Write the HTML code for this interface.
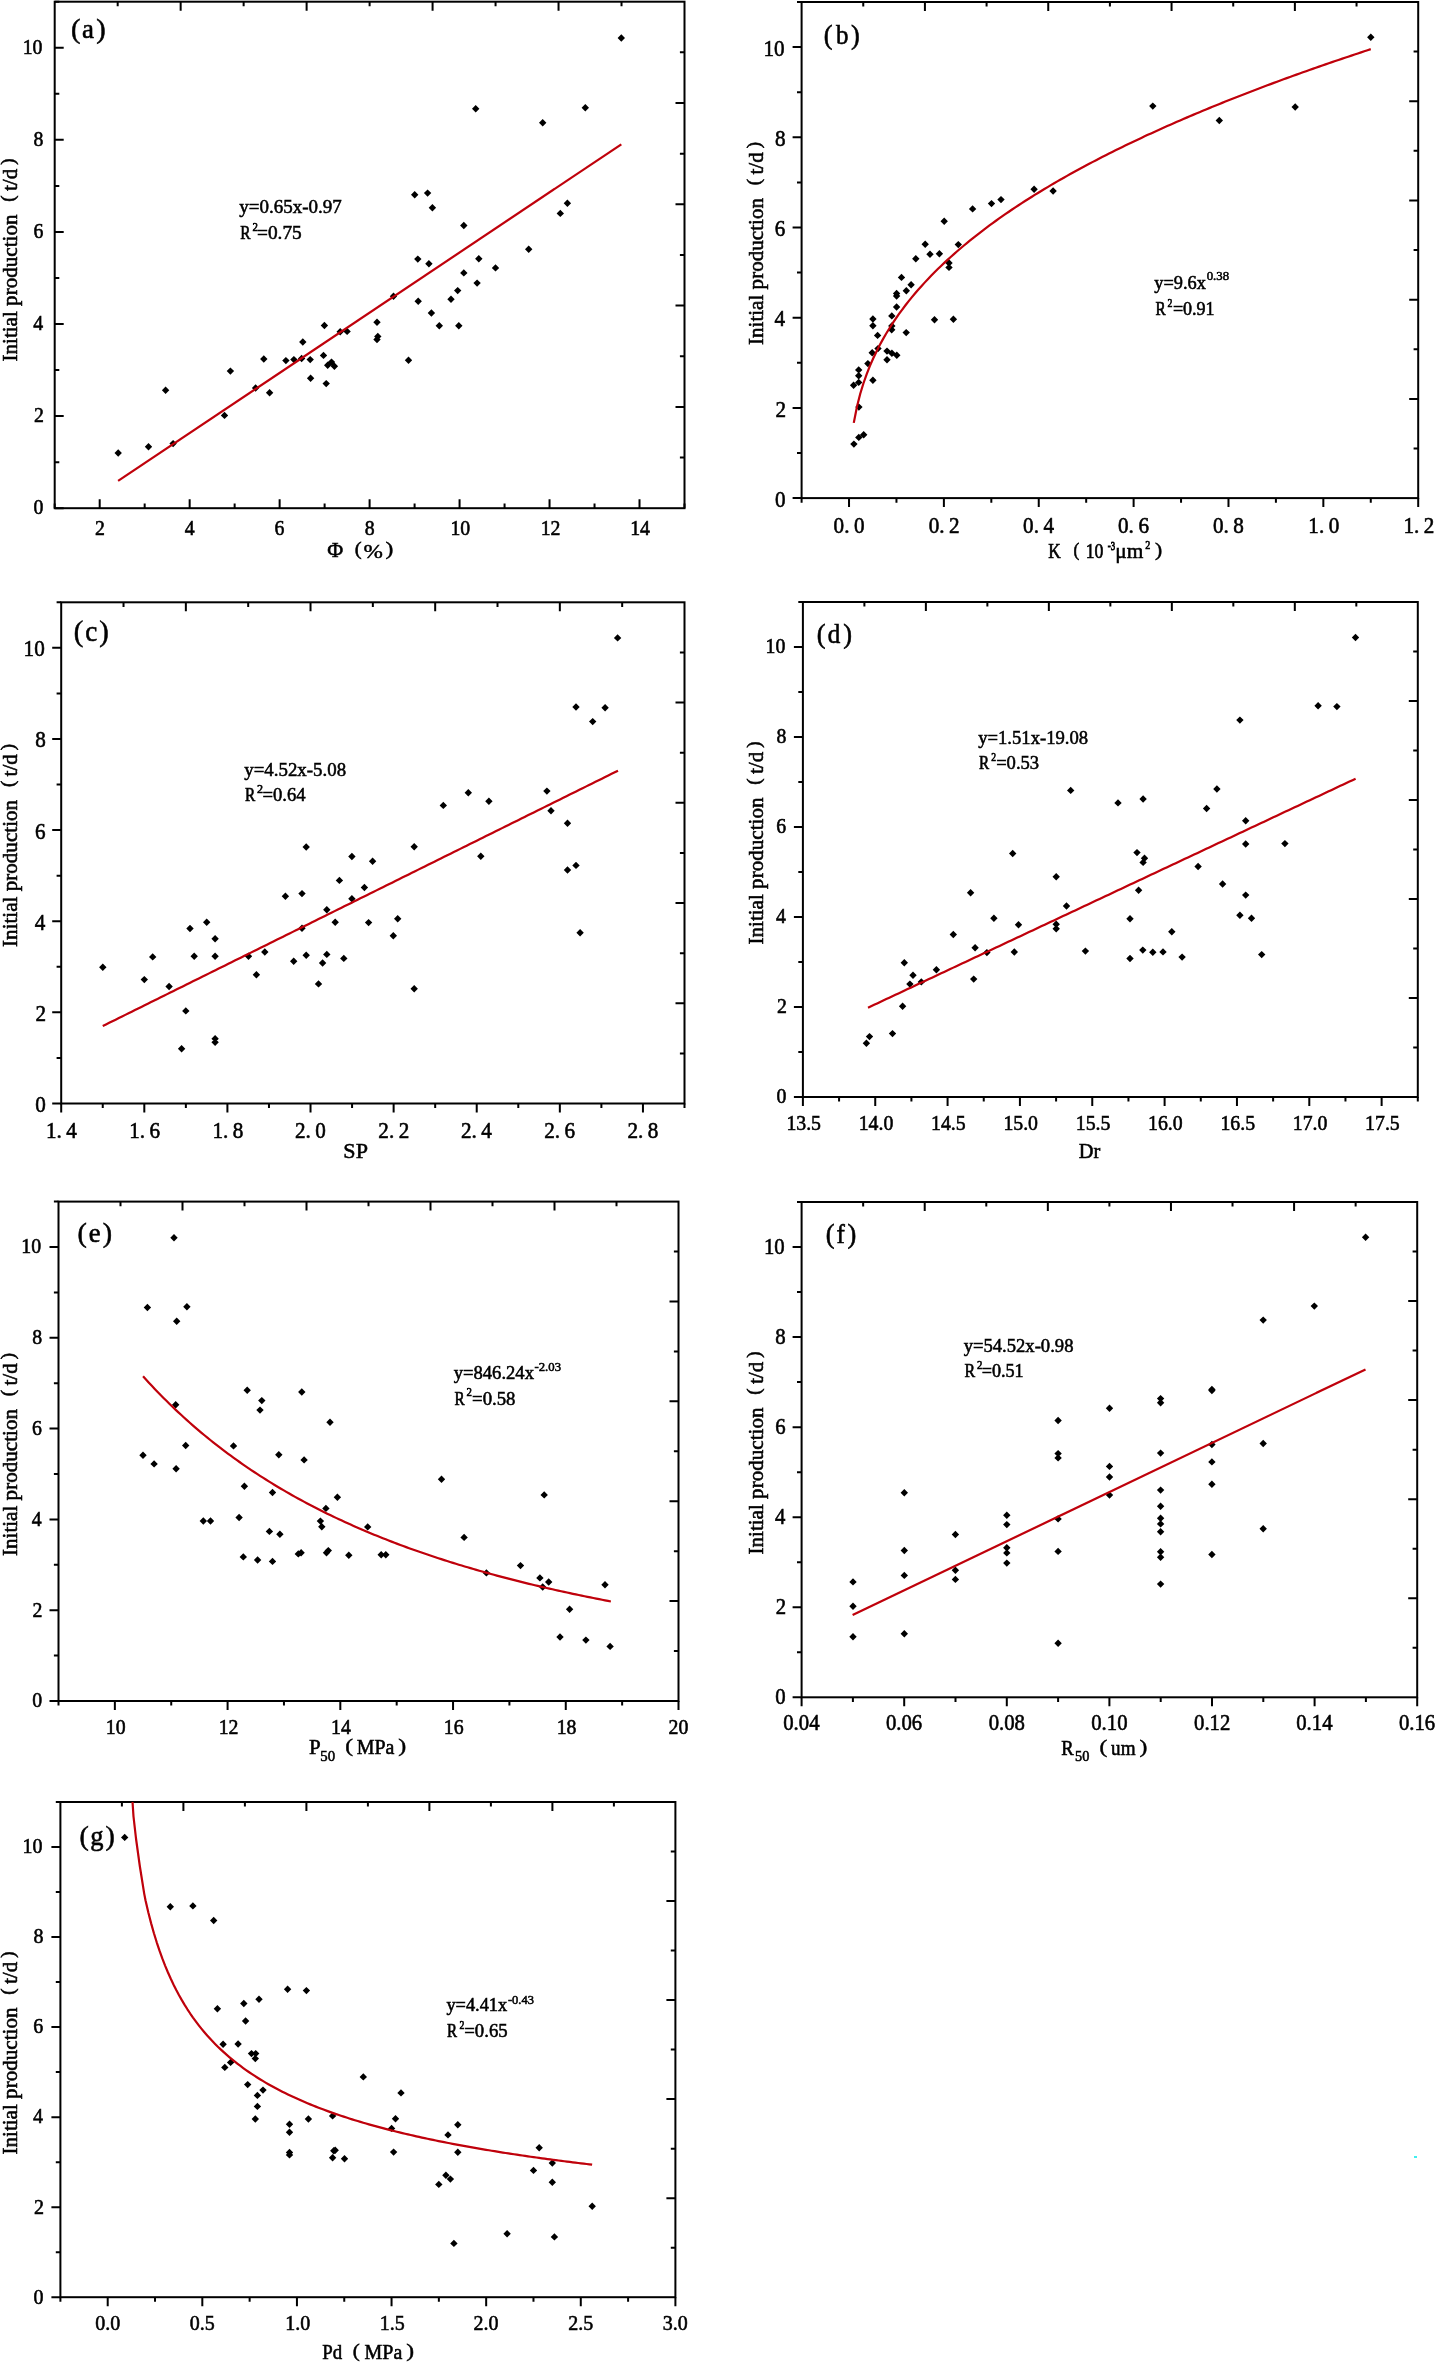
<!DOCTYPE html><html><head><meta charset="utf-8"><style>html,body{margin:0;padding:0;background:#fff;}svg{display:block;}</style></head><body>
<svg width="1436" height="2362" viewBox="0 0 1436 2362" font-family='"Liberation Serif", serif' fill="#000">
<rect width="1436" height="2362" fill="#fff"/>
<defs>
<filter id="soft" x="0" y="0" width="1436" height="2362" filterUnits="userSpaceOnUse"><feGaussianBlur stdDeviation="0.45"/></filter>
<clipPath id="clipa"><rect x="54.70" y="1.70" width="629.80" height="506.50"/></clipPath>
<clipPath id="clipb"><rect x="801.60" y="2.00" width="616.60" height="496.10"/></clipPath>
<clipPath id="clipc"><rect x="61.20" y="602.30" width="623.30" height="501.20"/></clipPath>
<clipPath id="clipd"><rect x="802.90" y="602.00" width="614.90" height="495.00"/></clipPath>
<clipPath id="clipe"><rect x="58.50" y="1201.60" width="620.00" height="499.40"/></clipPath>
<clipPath id="clipf"><rect x="801.60" y="1202.00" width="615.60" height="495.30"/></clipPath>
<clipPath id="clipg"><rect x="60.40" y="1802.00" width="615.00" height="495.20"/></clipPath>
</defs>
<g filter="url(#soft)">
<text transform="translate(33.59,514.40) scale(0.900,1)" font-size="22" stroke="#000" stroke-width="0.61">0</text>
<text transform="translate(33.99,422.31) scale(0.900,1)" font-size="22" stroke="#000" stroke-width="0.61">2</text>
<text transform="translate(33.20,330.22) scale(0.900,1)" font-size="22" stroke="#000" stroke-width="0.61">4</text>
<text transform="translate(33.39,238.13) scale(0.900,1)" font-size="22" stroke="#000" stroke-width="0.61">6</text>
<text transform="translate(33.59,146.04) scale(0.900,1)" font-size="22" stroke="#000" stroke-width="0.61">8</text>
<text transform="translate(22.69,53.95) scale(0.900,1)" font-size="22" stroke="#000" stroke-width="0.61">10</text>
<text transform="translate(94.88,535.30) scale(0.900,1)" font-size="22" stroke="#000" stroke-width="0.61">2</text>
<text transform="translate(184.71,535.30) scale(0.900,1)" font-size="22" stroke="#000" stroke-width="0.61">4</text>
<text transform="translate(274.53,535.30) scale(0.900,1)" font-size="22" stroke="#000" stroke-width="0.61">6</text>
<text transform="translate(364.65,535.30) scale(0.900,1)" font-size="22" stroke="#000" stroke-width="0.61">8</text>
<text transform="translate(450.48,535.30) scale(0.900,1)" font-size="22" stroke="#000" stroke-width="0.61">10</text>
<text transform="translate(540.65,535.30) scale(0.900,1)" font-size="22" stroke="#000" stroke-width="0.61">12</text>
<text transform="translate(630.22,535.30) scale(0.900,1)" font-size="22" stroke="#000" stroke-width="0.61">14</text>
<text transform="translate(774.96,506.73) scale(0.920,1)" font-size="23" stroke="#000" stroke-width="0.60">0</text>
<text transform="translate(775.38,416.53) scale(0.920,1)" font-size="23" stroke="#000" stroke-width="0.60">2</text>
<text transform="translate(774.54,326.33) scale(0.920,1)" font-size="23" stroke="#000" stroke-width="0.60">4</text>
<text transform="translate(774.75,236.13) scale(0.920,1)" font-size="23" stroke="#000" stroke-width="0.60">6</text>
<text transform="translate(774.96,145.93) scale(0.920,1)" font-size="23" stroke="#000" stroke-width="0.60">8</text>
<text transform="translate(763.38,55.73) scale(0.920,1)" font-size="23" stroke="#000" stroke-width="0.60">10</text>
<text transform="translate(833.56,532.90) scale(0.920,1)" font-size="23" stroke="#000" stroke-width="0.60">0.</text>
<text transform="translate(853.93,532.90) scale(0.920,1)" font-size="23" stroke="#000" stroke-width="0.60">0</text>
<text transform="translate(928.63,532.90) scale(0.920,1)" font-size="23" stroke="#000" stroke-width="0.60">0.</text>
<text transform="translate(949.00,532.90) scale(0.920,1)" font-size="23" stroke="#000" stroke-width="0.60">2</text>
<text transform="translate(1023.07,532.90) scale(0.920,1)" font-size="23" stroke="#000" stroke-width="0.60">0.</text>
<text transform="translate(1043.44,532.90) scale(0.920,1)" font-size="23" stroke="#000" stroke-width="0.60">4</text>
<text transform="translate(1118.03,532.90) scale(0.920,1)" font-size="23" stroke="#000" stroke-width="0.60">0.</text>
<text transform="translate(1138.40,532.90) scale(0.920,1)" font-size="23" stroke="#000" stroke-width="0.60">6</text>
<text transform="translate(1213.00,532.90) scale(0.920,1)" font-size="23" stroke="#000" stroke-width="0.60">0.</text>
<text transform="translate(1233.37,532.90) scale(0.920,1)" font-size="23" stroke="#000" stroke-width="0.60">8</text>
<text transform="translate(1308.33,532.90) scale(0.920,1)" font-size="23" stroke="#000" stroke-width="0.60">1.</text>
<text transform="translate(1328.70,532.90) scale(0.920,1)" font-size="23" stroke="#000" stroke-width="0.60">0</text>
<text transform="translate(1403.41,532.90) scale(0.920,1)" font-size="23" stroke="#000" stroke-width="0.60">1.</text>
<text transform="translate(1423.78,532.90) scale(0.920,1)" font-size="23" stroke="#000" stroke-width="0.60">2</text>
<text transform="translate(35.16,1111.93) scale(0.920,1)" font-size="23" stroke="#000" stroke-width="0.60">0</text>
<text transform="translate(35.58,1020.81) scale(0.920,1)" font-size="23" stroke="#000" stroke-width="0.60">2</text>
<text transform="translate(34.74,929.68) scale(0.920,1)" font-size="23" stroke="#000" stroke-width="0.60">4</text>
<text transform="translate(34.95,838.55) scale(0.920,1)" font-size="23" stroke="#000" stroke-width="0.60">6</text>
<text transform="translate(35.16,747.42) scale(0.920,1)" font-size="23" stroke="#000" stroke-width="0.60">8</text>
<text transform="translate(23.58,656.30) scale(0.920,1)" font-size="23" stroke="#000" stroke-width="0.60">10</text>
<text transform="translate(45.98,1138.30) scale(0.920,1)" font-size="23" stroke="#000" stroke-width="0.60">1.</text>
<text transform="translate(66.35,1138.30) scale(0.920,1)" font-size="23" stroke="#000" stroke-width="0.60">4</text>
<text transform="translate(129.20,1138.30) scale(0.920,1)" font-size="23" stroke="#000" stroke-width="0.60">1.</text>
<text transform="translate(149.57,1138.30) scale(0.920,1)" font-size="23" stroke="#000" stroke-width="0.60">6</text>
<text transform="translate(212.41,1138.30) scale(0.920,1)" font-size="23" stroke="#000" stroke-width="0.60">1.</text>
<text transform="translate(232.78,1138.30) scale(0.920,1)" font-size="23" stroke="#000" stroke-width="0.60">8</text>
<text transform="translate(294.99,1138.30) scale(0.920,1)" font-size="23" stroke="#000" stroke-width="0.60">2.</text>
<text transform="translate(315.36,1138.30) scale(0.920,1)" font-size="23" stroke="#000" stroke-width="0.60">0</text>
<text transform="translate(378.31,1138.30) scale(0.920,1)" font-size="23" stroke="#000" stroke-width="0.60">2.</text>
<text transform="translate(398.68,1138.30) scale(0.920,1)" font-size="23" stroke="#000" stroke-width="0.60">2</text>
<text transform="translate(460.99,1138.30) scale(0.920,1)" font-size="23" stroke="#000" stroke-width="0.60">2.</text>
<text transform="translate(481.36,1138.30) scale(0.920,1)" font-size="23" stroke="#000" stroke-width="0.60">4</text>
<text transform="translate(544.21,1138.30) scale(0.920,1)" font-size="23" stroke="#000" stroke-width="0.60">2.</text>
<text transform="translate(564.58,1138.30) scale(0.920,1)" font-size="23" stroke="#000" stroke-width="0.60">6</text>
<text transform="translate(627.42,1138.30) scale(0.920,1)" font-size="23" stroke="#000" stroke-width="0.60">2.</text>
<text transform="translate(647.79,1138.30) scale(0.920,1)" font-size="23" stroke="#000" stroke-width="0.60">8</text>
<text transform="translate(776.49,1102.90) scale(0.900,1)" font-size="22" stroke="#000" stroke-width="0.61">0</text>
<text transform="translate(776.89,1012.91) scale(0.900,1)" font-size="22" stroke="#000" stroke-width="0.61">2</text>
<text transform="translate(776.10,922.91) scale(0.900,1)" font-size="22" stroke="#000" stroke-width="0.61">4</text>
<text transform="translate(776.30,832.91) scale(0.900,1)" font-size="22" stroke="#000" stroke-width="0.61">6</text>
<text transform="translate(776.49,742.91) scale(0.900,1)" font-size="22" stroke="#000" stroke-width="0.61">8</text>
<text transform="translate(765.59,652.91) scale(0.900,1)" font-size="22" stroke="#000" stroke-width="0.61">10</text>
<text transform="translate(786.38,1130.00) scale(0.900,1)" font-size="22" stroke="#000" stroke-width="0.61">13.5</text>
<text transform="translate(858.72,1130.00) scale(0.900,1)" font-size="22" stroke="#000" stroke-width="0.61">14.0</text>
<text transform="translate(931.06,1130.00) scale(0.900,1)" font-size="22" stroke="#000" stroke-width="0.61">14.5</text>
<text transform="translate(1003.40,1130.00) scale(0.900,1)" font-size="22" stroke="#000" stroke-width="0.61">15.0</text>
<text transform="translate(1075.74,1130.00) scale(0.900,1)" font-size="22" stroke="#000" stroke-width="0.61">15.5</text>
<text transform="translate(1148.09,1130.00) scale(0.900,1)" font-size="22" stroke="#000" stroke-width="0.61">16.0</text>
<text transform="translate(1220.43,1130.00) scale(0.900,1)" font-size="22" stroke="#000" stroke-width="0.61">16.5</text>
<text transform="translate(1292.77,1130.00) scale(0.900,1)" font-size="22" stroke="#000" stroke-width="0.61">17.0</text>
<text transform="translate(1365.11,1130.00) scale(0.900,1)" font-size="22" stroke="#000" stroke-width="0.61">17.5</text>
<text transform="translate(32.19,1707.30) scale(0.900,1)" font-size="22" stroke="#000" stroke-width="0.61">0</text>
<text transform="translate(32.59,1616.50) scale(0.900,1)" font-size="22" stroke="#000" stroke-width="0.61">2</text>
<text transform="translate(31.80,1525.70) scale(0.900,1)" font-size="22" stroke="#000" stroke-width="0.61">4</text>
<text transform="translate(31.99,1434.90) scale(0.900,1)" font-size="22" stroke="#000" stroke-width="0.61">6</text>
<text transform="translate(32.19,1344.10) scale(0.900,1)" font-size="22" stroke="#000" stroke-width="0.61">8</text>
<text transform="translate(21.29,1253.30) scale(0.900,1)" font-size="22" stroke="#000" stroke-width="0.61">10</text>
<text transform="translate(105.77,1733.50) scale(0.900,1)" font-size="22" stroke="#000" stroke-width="0.61">10</text>
<text transform="translate(218.69,1733.50) scale(0.900,1)" font-size="22" stroke="#000" stroke-width="0.61">12</text>
<text transform="translate(331.03,1733.50) scale(0.900,1)" font-size="22" stroke="#000" stroke-width="0.61">14</text>
<text transform="translate(443.85,1733.50) scale(0.900,1)" font-size="22" stroke="#000" stroke-width="0.61">16</text>
<text transform="translate(556.68,1733.50) scale(0.900,1)" font-size="22" stroke="#000" stroke-width="0.61">18</text>
<text transform="translate(668.55,1733.50) scale(0.900,1)" font-size="22" stroke="#000" stroke-width="0.61">20</text>
<text transform="translate(775.36,1704.10) scale(0.930,1)" font-size="22.3" stroke="#000" stroke-width="0.59">0</text>
<text transform="translate(775.77,1614.05) scale(0.930,1)" font-size="22.3" stroke="#000" stroke-width="0.59">2</text>
<text transform="translate(774.94,1523.99) scale(0.930,1)" font-size="22.3" stroke="#000" stroke-width="0.59">4</text>
<text transform="translate(775.15,1433.94) scale(0.930,1)" font-size="22.3" stroke="#000" stroke-width="0.59">6</text>
<text transform="translate(775.36,1343.89) scale(0.930,1)" font-size="22.3" stroke="#000" stroke-width="0.59">8</text>
<text transform="translate(763.99,1253.83) scale(0.930,1)" font-size="22.3" stroke="#000" stroke-width="0.59">10</text>
<text transform="translate(783.25,1729.80) scale(0.930,1)" font-size="22.3" stroke="#000" stroke-width="0.59">0.04</text>
<text transform="translate(885.95,1729.80) scale(0.930,1)" font-size="22.3" stroke="#000" stroke-width="0.59">0.06</text>
<text transform="translate(988.65,1729.80) scale(0.930,1)" font-size="22.3" stroke="#000" stroke-width="0.59">0.08</text>
<text transform="translate(1091.25,1729.80) scale(0.930,1)" font-size="22.3" stroke="#000" stroke-width="0.59">0.10</text>
<text transform="translate(1194.06,1729.80) scale(0.930,1)" font-size="22.3" stroke="#000" stroke-width="0.59">0.12</text>
<text transform="translate(1296.25,1729.80) scale(0.930,1)" font-size="22.3" stroke="#000" stroke-width="0.59">0.14</text>
<text transform="translate(1398.95,1729.80) scale(0.930,1)" font-size="22.3" stroke="#000" stroke-width="0.59">0.16</text>
<text transform="translate(33.50,2303.54) scale(0.930,1)" font-size="21.5" stroke="#000" stroke-width="0.59">0</text>
<text transform="translate(33.90,2213.50) scale(0.930,1)" font-size="21.5" stroke="#000" stroke-width="0.59">2</text>
<text transform="translate(33.10,2123.47) scale(0.930,1)" font-size="21.5" stroke="#000" stroke-width="0.59">4</text>
<text transform="translate(33.30,2033.43) scale(0.930,1)" font-size="21.5" stroke="#000" stroke-width="0.59">6</text>
<text transform="translate(33.50,1943.40) scale(0.930,1)" font-size="21.5" stroke="#000" stroke-width="0.59">8</text>
<text transform="translate(22.50,1853.36) scale(0.930,1)" font-size="21.5" stroke="#000" stroke-width="0.59">10</text>
<text transform="translate(95.21,2329.50) scale(0.930,1)" font-size="21.5" stroke="#000" stroke-width="0.59">0.0</text>
<text transform="translate(189.83,2329.50) scale(0.930,1)" font-size="21.5" stroke="#000" stroke-width="0.59">0.5</text>
<text transform="translate(285.24,2329.50) scale(0.930,1)" font-size="21.5" stroke="#000" stroke-width="0.59">1.0</text>
<text transform="translate(379.86,2329.50) scale(0.930,1)" font-size="21.5" stroke="#000" stroke-width="0.59">1.5</text>
<text transform="translate(473.62,2329.50) scale(0.930,1)" font-size="21.5" stroke="#000" stroke-width="0.59">2.0</text>
<text transform="translate(568.24,2329.50) scale(0.930,1)" font-size="21.5" stroke="#000" stroke-width="0.59">2.5</text>
<text transform="translate(662.80,2329.50) scale(0.930,1)" font-size="21.5" stroke="#000" stroke-width="0.59">3.0</text>
<rect x="54.70" y="1.70" width="629.80" height="506.50" fill="none" stroke="#000" stroke-width="2.0"/>
<path d="M54.70,508.20h9.00M54.70,462.15h4.60M54.70,416.11h9.00M54.70,370.06h4.60M54.70,324.02h9.00M54.70,277.97h4.60M54.70,231.93h9.00M54.70,185.88h4.60M54.70,139.84h9.00M54.70,93.79h4.60M54.70,47.75h9.00M54.70,1.70h4.60M99.69,508.20v-9.00M189.66,508.20v-9.00M279.63,508.20v-9.00M369.60,508.20v-9.00M459.57,508.20v-9.00M549.54,508.20v-9.00M639.51,508.20v-9.00M54.70,508.20v-4.60M144.67,508.20v-4.60M234.64,508.20v-4.60M324.61,508.20v-4.60M414.59,508.20v-4.60M504.56,508.20v-4.60M594.53,508.20v-4.60M684.50,508.20v-4.60M117.68,1.70v4.60M684.50,52.35h-4.60M180.66,1.70v9.00M684.50,103.00h-9.00M243.64,1.70v4.60M684.50,153.65h-4.60M306.62,1.70v9.00M684.50,204.30h-9.00M369.60,1.70v4.60M684.50,254.95h-4.60M432.58,1.70v9.00M684.50,305.60h-9.00M495.56,1.70v4.60M684.50,356.25h-4.60M558.54,1.70v9.00M684.50,406.90h-9.00M621.52,1.70v4.60M684.50,457.55h-4.60" stroke="#000" stroke-width="2.0" fill="none"/>
<rect x="801.60" y="2.00" width="616.60" height="496.10" fill="none" stroke="#000" stroke-width="2.0"/>
<path d="M801.60,498.10h-9.00M801.60,453.00h-4.60M801.60,407.90h-9.00M801.60,362.80h-4.60M801.60,317.70h-9.00M801.60,272.60h-4.60M801.60,227.50h-9.00M801.60,182.40h-4.60M801.60,137.30h-9.00M801.60,92.20h-4.60M801.60,47.10h-9.00M801.60,2.00h-4.60M849.03,498.10v9.00M943.89,498.10v9.00M1038.75,498.10v9.00M1133.62,498.10v9.00M1228.48,498.10v9.00M1323.34,498.10v9.00M1418.20,498.10v9.00M801.60,498.10v4.60M896.46,498.10v4.60M991.32,498.10v4.60M1086.18,498.10v4.60M1181.05,498.10v4.60M1275.91,498.10v4.60M1370.77,498.10v4.60M863.26,2.00v4.60M1418.20,51.61h-4.60M924.92,2.00v9.00M1418.20,101.22h-9.00M986.58,2.00v4.60M1418.20,150.83h-4.60M1048.24,2.00v9.00M1418.20,200.44h-9.00M1109.90,2.00v4.60M1418.20,250.05h-4.60M1171.56,2.00v9.00M1418.20,299.66h-9.00M1233.22,2.00v4.60M1418.20,349.27h-4.60M1294.88,2.00v9.00M1418.20,398.88h-9.00M1356.54,2.00v4.60M1418.20,448.49h-4.60" stroke="#000" stroke-width="2.0" fill="none"/>
<rect x="61.20" y="602.30" width="623.30" height="501.20" fill="none" stroke="#000" stroke-width="2.0"/>
<path d="M61.20,1103.50h-9.00M61.20,1057.94h-4.60M61.20,1012.37h-9.00M61.20,966.81h-4.60M61.20,921.25h-9.00M61.20,875.68h-4.60M61.20,830.12h-9.00M61.20,784.55h-4.60M61.20,738.99h-9.00M61.20,693.43h-4.60M61.20,647.86h-9.00M61.20,602.30h-4.60M61.20,1103.50v9.00M144.31,1103.50v9.00M227.41,1103.50v9.00M310.52,1103.50v9.00M393.63,1103.50v9.00M476.73,1103.50v9.00M559.84,1103.50v9.00M642.95,1103.50v9.00M102.75,1103.50v4.60M185.86,1103.50v4.60M268.97,1103.50v4.60M352.07,1103.50v4.60M435.18,1103.50v4.60M518.29,1103.50v4.60M601.39,1103.50v4.60M684.50,1103.50v4.60M123.53,602.30v4.60M684.50,652.42h-4.60M185.86,602.30v9.00M684.50,702.54h-9.00M248.19,602.30v4.60M684.50,752.66h-4.60M310.52,602.30v9.00M684.50,802.78h-9.00M372.85,602.30v4.60M684.50,852.90h-4.60M435.18,602.30v9.00M684.50,903.02h-9.00M497.51,602.30v4.60M684.50,953.14h-4.60M559.84,602.30v9.00M684.50,1003.26h-9.00M622.17,602.30v4.60M684.50,1053.38h-4.60" stroke="#000" stroke-width="2.0" fill="none"/>
<rect x="802.90" y="602.00" width="614.90" height="495.00" fill="none" stroke="#000" stroke-width="2.0"/>
<path d="M802.90,1097.00h-9.00M802.90,1052.00h-4.60M802.90,1007.00h-9.00M802.90,962.00h-4.60M802.90,917.00h-9.00M802.90,872.00h-4.60M802.90,827.00h-9.00M802.90,782.00h-4.60M802.90,737.00h-9.00M802.90,692.00h-4.60M802.90,647.00h-9.00M802.90,602.00h-4.60M802.90,1097.00v9.00M875.24,1097.00v9.00M947.58,1097.00v9.00M1019.92,1097.00v9.00M1092.26,1097.00v9.00M1164.61,1097.00v9.00M1236.95,1097.00v9.00M1309.29,1097.00v9.00M1381.63,1097.00v9.00M839.07,1097.00v4.60M911.41,1097.00v4.60M983.75,1097.00v4.60M1056.09,1097.00v4.60M1128.44,1097.00v4.60M1200.78,1097.00v4.60M1273.12,1097.00v4.60M1345.46,1097.00v4.60M1417.80,1097.00v4.60M864.39,602.00v4.60M1417.80,651.50h-4.60M925.88,602.00v9.00M1417.80,701.00h-9.00M987.37,602.00v4.60M1417.80,750.50h-4.60M1048.86,602.00v9.00M1417.80,800.00h-9.00M1110.35,602.00v4.60M1417.80,849.50h-4.60M1171.84,602.00v9.00M1417.80,899.00h-9.00M1233.33,602.00v4.60M1417.80,948.50h-4.60M1294.82,602.00v9.00M1417.80,998.00h-9.00M1356.31,602.00v4.60M1417.80,1047.50h-4.60" stroke="#000" stroke-width="2.0" fill="none"/>
<rect x="58.50" y="1201.60" width="620.00" height="499.40" fill="none" stroke="#000" stroke-width="2.0"/>
<path d="M58.50,1701.00h-9.00M58.50,1655.60h-4.60M58.50,1610.20h-9.00M58.50,1564.80h-4.60M58.50,1519.40h-9.00M58.50,1474.00h-4.60M58.50,1428.60h-9.00M58.50,1383.20h-4.60M58.50,1337.80h-9.00M58.50,1292.40h-4.60M58.50,1247.00h-9.00M58.50,1201.60h-4.60M114.86,1701.00v9.00M227.59,1701.00v9.00M340.32,1701.00v9.00M453.05,1701.00v9.00M565.77,1701.00v9.00M678.50,1701.00v9.00M58.50,1701.00v4.60M171.23,1701.00v4.60M283.95,1701.00v4.60M396.68,1701.00v4.60M509.41,1701.00v4.60M622.14,1701.00v4.60M120.50,1201.60v4.60M678.50,1251.54h-4.60M182.50,1201.60v9.00M678.50,1301.48h-9.00M244.50,1201.60v4.60M678.50,1351.42h-4.60M306.50,1201.60v9.00M678.50,1401.36h-9.00M368.50,1201.60v4.60M678.50,1451.30h-4.60M430.50,1201.60v9.00M678.50,1501.24h-9.00M492.50,1201.60v4.60M678.50,1551.18h-4.60M554.50,1201.60v9.00M678.50,1601.12h-9.00M616.50,1201.60v4.60M678.50,1651.06h-4.60" stroke="#000" stroke-width="2.0" fill="none"/>
<rect x="801.60" y="1202.00" width="615.60" height="495.30" fill="none" stroke="#000" stroke-width="2.0"/>
<path d="M801.60,1697.30h-9.00M801.60,1652.27h-4.60M801.60,1607.25h-9.00M801.60,1562.22h-4.60M801.60,1517.19h-9.00M801.60,1472.16h-4.60M801.60,1427.14h-9.00M801.60,1382.11h-4.60M801.60,1337.08h-9.00M801.60,1292.05h-4.60M801.60,1247.03h-9.00M801.60,1202.00h-4.60M801.60,1697.30v9.00M904.20,1697.30v9.00M1006.80,1697.30v9.00M1109.40,1697.30v9.00M1212.00,1697.30v9.00M1314.60,1697.30v9.00M1417.20,1697.30v9.00M852.90,1697.30v4.60M955.50,1697.30v4.60M1058.10,1697.30v4.60M1160.70,1697.30v4.60M1263.30,1697.30v4.60M1365.90,1697.30v4.60M863.16,1202.00v4.60M1417.20,1251.53h-4.60M924.72,1202.00v9.00M1417.20,1301.06h-9.00M986.28,1202.00v4.60M1417.20,1350.59h-4.60M1047.84,1202.00v9.00M1417.20,1400.12h-9.00M1109.40,1202.00v4.60M1417.20,1449.65h-4.60M1170.96,1202.00v9.00M1417.20,1499.18h-9.00M1232.52,1202.00v4.60M1417.20,1548.71h-4.60M1294.08,1202.00v9.00M1417.20,1598.24h-9.00M1355.64,1202.00v4.60M1417.20,1647.77h-4.60" stroke="#000" stroke-width="2.0" fill="none"/>
<rect x="60.40" y="1802.00" width="615.00" height="495.20" fill="none" stroke="#000" stroke-width="2.0"/>
<path d="M60.40,2297.20h-9.00M60.40,2252.18h-4.60M60.40,2207.16h-9.00M60.40,2162.15h-4.60M60.40,2117.13h-9.00M60.40,2072.11h-4.60M60.40,2027.09h-9.00M60.40,1982.07h-4.60M60.40,1937.05h-9.00M60.40,1892.04h-4.60M60.40,1847.02h-9.00M60.40,1802.00h-4.60M107.71,2297.20v9.00M202.32,2297.20v9.00M296.94,2297.20v9.00M391.55,2297.20v9.00M486.17,2297.20v9.00M580.78,2297.20v9.00M675.40,2297.20v9.00M60.40,2297.20v4.60M155.02,2297.20v4.60M249.63,2297.20v4.60M344.25,2297.20v4.60M438.86,2297.20v4.60M533.48,2297.20v4.60M628.09,2297.20v4.60M121.90,1802.00v4.60M675.40,1851.52h-4.60M183.40,1802.00v9.00M675.40,1901.04h-9.00M244.90,1802.00v4.60M675.40,1950.56h-4.60M306.40,1802.00v9.00M675.40,2000.08h-9.00M367.90,1802.00v4.60M675.40,2049.60h-4.60M429.40,1802.00v9.00M675.40,2099.12h-9.00M490.90,1802.00v4.60M675.40,2148.64h-4.60M552.40,1802.00v9.00M675.40,2198.16h-9.00M613.90,1802.00v4.60M675.40,2247.68h-4.60" stroke="#000" stroke-width="2.0" fill="none"/>
<text transform="translate(16.70,361.54) rotate(-90)" font-size="21.1" stroke="#000" stroke-width="0.55">Initial production</text>
<text transform="translate(13.70,201.66) rotate(-90)" font-size="19" stroke="#000" stroke-width="0.55">(</text>
<text transform="translate(16.70,191.01) rotate(-90)" font-size="21.1" stroke="#000" stroke-width="0.55">t/d</text>
<text transform="translate(13.70,164.77) rotate(-90)" font-size="19" stroke="#000" stroke-width="0.55">)</text>
<text transform="translate(762.50,345.04) rotate(-90)" font-size="21.1" stroke="#000" stroke-width="0.55">Initial production</text>
<text transform="translate(759.50,185.16) rotate(-90)" font-size="19" stroke="#000" stroke-width="0.55">(</text>
<text transform="translate(762.50,174.51) rotate(-90)" font-size="21.1" stroke="#000" stroke-width="0.55">t/d</text>
<text transform="translate(759.50,148.27) rotate(-90)" font-size="19" stroke="#000" stroke-width="0.55">)</text>
<text transform="translate(17.00,946.94) rotate(-90)" font-size="21.1" stroke="#000" stroke-width="0.55">Initial production</text>
<text transform="translate(14.00,787.06) rotate(-90)" font-size="19" stroke="#000" stroke-width="0.55">(</text>
<text transform="translate(17.00,776.41) rotate(-90)" font-size="21.1" stroke="#000" stroke-width="0.55">t/d</text>
<text transform="translate(14.00,750.17) rotate(-90)" font-size="19" stroke="#000" stroke-width="0.55">)</text>
<text transform="translate(762.50,944.54) rotate(-90)" font-size="21.1" stroke="#000" stroke-width="0.55">Initial production</text>
<text transform="translate(759.50,784.66) rotate(-90)" font-size="19" stroke="#000" stroke-width="0.55">(</text>
<text transform="translate(762.50,774.01) rotate(-90)" font-size="21.1" stroke="#000" stroke-width="0.55">t/d</text>
<text transform="translate(759.50,747.77) rotate(-90)" font-size="19" stroke="#000" stroke-width="0.55">)</text>
<text transform="translate(17.00,1556.04) rotate(-90)" font-size="21.1" stroke="#000" stroke-width="0.55">Initial production</text>
<text transform="translate(14.00,1396.16) rotate(-90)" font-size="19" stroke="#000" stroke-width="0.55">(</text>
<text transform="translate(17.00,1385.51) rotate(-90)" font-size="21.1" stroke="#000" stroke-width="0.55">t/d</text>
<text transform="translate(14.00,1359.27) rotate(-90)" font-size="19" stroke="#000" stroke-width="0.55">)</text>
<text transform="translate(762.50,1554.54) rotate(-90)" font-size="21.1" stroke="#000" stroke-width="0.55">Initial production</text>
<text transform="translate(759.50,1394.66) rotate(-90)" font-size="19" stroke="#000" stroke-width="0.55">(</text>
<text transform="translate(762.50,1384.01) rotate(-90)" font-size="21.1" stroke="#000" stroke-width="0.55">t/d</text>
<text transform="translate(759.50,1357.77) rotate(-90)" font-size="19" stroke="#000" stroke-width="0.55">)</text>
<text transform="translate(17.00,2154.54) rotate(-90)" font-size="21.1" stroke="#000" stroke-width="0.55">Initial production</text>
<text transform="translate(14.00,1994.66) rotate(-90)" font-size="19" stroke="#000" stroke-width="0.55">(</text>
<text transform="translate(17.00,1984.01) rotate(-90)" font-size="21.1" stroke="#000" stroke-width="0.55">t/d</text>
<text transform="translate(14.00,1957.77) rotate(-90)" font-size="19" stroke="#000" stroke-width="0.55">)</text>
<text transform="translate(327.25,557.40) scale(1.037,1)" font-size="21" stroke="#000" stroke-width="0.53">Φ</text>
<text transform="translate(354.67,555.40) scale(1.153,1)" font-size="18" stroke="#000" stroke-width="0.48">(</text>
<text transform="translate(363.60,557.60) scale(1.224,1)" font-size="19" stroke="#000" stroke-width="0.45">%</text>
<text transform="translate(385.40,555.40) scale(1.303,1)" font-size="18" stroke="#000" stroke-width="0.42">)</text>
<text transform="translate(1048.17,557.90) scale(0.821,1)" font-size="21" stroke="#000" stroke-width="0.67">K</text>
<text transform="translate(1073.51,555.90) scale(0.964,1)" font-size="18" stroke="#000" stroke-width="0.57">(</text>
<text transform="translate(1085.69,557.90) scale(0.844,1)" font-size="21" stroke="#000" stroke-width="0.65">10</text>
<text transform="translate(1107.79,550.00) scale(0.649,1)" font-size="13.5" stroke="#000" stroke-width="0.85">-3</text>
<text transform="translate(1115.30,557.90) scale(1.015,1)" font-size="21" stroke="#000" stroke-width="0.54">μm</text>
<text transform="translate(1145.30,549.00) scale(0.779,1)" font-size="13" stroke="#000" stroke-width="0.71">2</text>
<text transform="translate(1155.05,555.90) scale(1.197,1)" font-size="18" stroke="#000" stroke-width="0.46">)</text>
<text transform="translate(343.36,1158.20) scale(1.027,1)" font-size="21.5" stroke="#000" stroke-width="0.54">SP</text>
<text transform="translate(1078.79,1158.20) scale(0.948,1)" font-size="21.5" stroke="#000" stroke-width="0.58">Dr</text>
<text transform="translate(309.07,1754.30) scale(1.000,1)" font-size="21" stroke="#000" stroke-width="0.55">P</text>
<text transform="translate(320.28,1760.80) scale(1.060,1)" font-size="14" stroke="#000" stroke-width="0.52">50</text>
<text transform="translate(345.26,1752.30) scale(1.300,1)" font-size="18" stroke="#000" stroke-width="0.42">(</text>
<text transform="translate(356.70,1754.30) scale(0.950,1)" font-size="21" stroke="#000" stroke-width="0.58">MPa</text>
<text transform="translate(398.18,1752.30) scale(1.325,1)" font-size="18" stroke="#000" stroke-width="0.42">)</text>
<text transform="translate(1061.23,1754.50) scale(0.886,1)" font-size="21" stroke="#000" stroke-width="0.62">R</text>
<text transform="translate(1075.01,1761.00) scale(1.020,1)" font-size="14" stroke="#000" stroke-width="0.54">50</text>
<text transform="translate(1099.46,1752.50) scale(1.300,1)" font-size="18" stroke="#000" stroke-width="0.42">(</text>
<text transform="translate(1111.11,1754.50) scale(0.911,1)" font-size="21" stroke="#000" stroke-width="0.60">um</text>
<text transform="translate(1139.40,1752.50) scale(1.303,1)" font-size="18" stroke="#000" stroke-width="0.42">)</text>
<text transform="translate(322.33,2358.50) scale(0.896,1)" font-size="21" stroke="#000" stroke-width="0.61">Pd</text>
<text transform="translate(352.75,2356.50) scale(1.174,1)" font-size="18" stroke="#000" stroke-width="0.47">(</text>
<text transform="translate(364.60,2358.50) scale(0.950,1)" font-size="21" stroke="#000" stroke-width="0.58">MPa</text>
<text transform="translate(406.20,2356.50) scale(1.303,1)" font-size="18" stroke="#000" stroke-width="0.42">)</text>
<text transform="translate(71.07,37.90)" font-size="28.35164835164835" stroke="#000" stroke-width="0.55">(</text>
<text transform="translate(82.04,37.90) scale(0.950,1)" font-size="28.35164835164835" stroke="#000" stroke-width="0.58">a</text>
<text transform="translate(96.18,37.90)" font-size="28.35164835164835" stroke="#000" stroke-width="0.55">)</text>
<text transform="translate(823.75,43.75)" font-size="26.263736263736263" stroke="#000" stroke-width="0.55">(</text>
<text transform="translate(836.01,43.75) scale(0.950,1)" font-size="26.263736263736263" stroke="#000" stroke-width="0.58">b</text>
<text transform="translate(851.08,43.75)" font-size="26.263736263736263" stroke="#000" stroke-width="0.55">)</text>
<text transform="translate(73.86,641.36)" font-size="28.57142857142857" stroke="#000" stroke-width="0.55">(</text>
<text transform="translate(85.21,641.36) scale(0.950,1)" font-size="28.57142857142857" stroke="#000" stroke-width="0.58">c</text>
<text transform="translate(99.21,641.36)" font-size="28.57142857142857" stroke="#000" stroke-width="0.55">)</text>
<text transform="translate(816.75,643.43)" font-size="26.373626373626372" stroke="#000" stroke-width="0.55">(</text>
<text transform="translate(827.84,643.43) scale(0.950,1)" font-size="26.373626373626372" stroke="#000" stroke-width="0.58">d</text>
<text transform="translate(843.25,643.43)" font-size="26.373626373626372" stroke="#000" stroke-width="0.55">)</text>
<text transform="translate(77.38,1242.48)" font-size="28.021978021978022" stroke="#000" stroke-width="0.55">(</text>
<text transform="translate(88.85,1242.48) scale(0.950,1)" font-size="28.021978021978022" stroke="#000" stroke-width="0.58">e</text>
<text transform="translate(102.77,1242.48)" font-size="28.021978021978022" stroke="#000" stroke-width="0.55">)</text>
<text transform="translate(825.85,1243.43)" font-size="26.373626373626372" stroke="#000" stroke-width="0.55">(</text>
<text transform="translate(836.49,1243.43) scale(0.950,1)" font-size="26.373626373626372" stroke="#000" stroke-width="0.58">f</text>
<text transform="translate(847.45,1243.43)" font-size="26.373626373626372" stroke="#000" stroke-width="0.55">)</text>
<text transform="translate(79.38,1844.50)" font-size="27.912087912088012" stroke="#000" stroke-width="0.55">(</text>
<text transform="translate(90.21,1844.50) scale(0.950,1)" font-size="27.912087912088012" stroke="#000" stroke-width="0.58">g</text>
<text transform="translate(105.61,1844.50)" font-size="27.912087912088012" stroke="#000" stroke-width="0.55">)</text>
<text transform="translate(239.31,213.00) scale(0.999,1)" font-size="19" stroke="#000" stroke-width="0.55">y=0.65x-0.97</text>
<text transform="translate(240.32,239.20) scale(0.808,1)" font-size="19" stroke="#000" stroke-width="0.68">R</text>
<text transform="translate(252.47,230.50) scale(0.869,1)" font-size="12.5" stroke="#000" stroke-width="0.63">2</text>
<text transform="translate(257.03,239.20) scale(1.017,1)" font-size="19" stroke="#000" stroke-width="0.54">=0.75</text>
<text transform="translate(1154.32,288.80) scale(0.964,1)" font-size="19" stroke="#000" stroke-width="0.57">y=9.6x</text>
<text transform="translate(1206.65,280.40) scale(1.071,1)" font-size="12" stroke="#000" stroke-width="0.51">0.38</text>
<text transform="translate(1155.42,314.60) scale(0.800,1)" font-size="19" stroke="#000" stroke-width="0.69">R</text>
<text transform="translate(1167.50,306.70) scale(0.790,1)" font-size="12.5" stroke="#000" stroke-width="0.70">2</text>
<text transform="translate(1172.89,314.60) scale(0.950,1)" font-size="19" stroke="#000" stroke-width="0.58">=0.91</text>
<text transform="translate(244.31,775.50) scale(0.993,1)" font-size="19" stroke="#000" stroke-width="0.55">y=4.52x-5.08</text>
<text transform="translate(244.92,801.30) scale(0.808,1)" font-size="19" stroke="#000" stroke-width="0.68">R</text>
<text transform="translate(256.92,792.90) scale(0.968,1)" font-size="12.5" stroke="#000" stroke-width="0.57">2</text>
<text transform="translate(262.46,801.30) scale(0.980,1)" font-size="19" stroke="#000" stroke-width="0.56">=0.64</text>
<text transform="translate(978.21,744.00) scale(0.981,1)" font-size="19" stroke="#000" stroke-width="0.56">y=1.51x-19.08</text>
<text transform="translate(979.02,769.30) scale(0.800,1)" font-size="19" stroke="#000" stroke-width="0.69">R</text>
<text transform="translate(991.21,761.20) scale(0.770,1)" font-size="12.5" stroke="#000" stroke-width="0.71">2</text>
<text transform="translate(996.16,769.30) scale(0.977,1)" font-size="19" stroke="#000" stroke-width="0.56">=0.53</text>
<text transform="translate(453.71,1378.90) scale(0.980,1)" font-size="19" stroke="#000" stroke-width="0.56">y=846.24x</text>
<text transform="translate(534.45,1371.20) scale(1.063,1)" font-size="12" stroke="#000" stroke-width="0.52">-2.03</text>
<text transform="translate(454.42,1404.70) scale(0.800,1)" font-size="19" stroke="#000" stroke-width="0.69">R</text>
<text transform="translate(466.57,1396.10) scale(0.869,1)" font-size="12.5" stroke="#000" stroke-width="0.63">2</text>
<text transform="translate(472.05,1404.70) scale(0.989,1)" font-size="19" stroke="#000" stroke-width="0.56">=0.58</text>
<text transform="translate(963.71,1351.70) scale(0.980,1)" font-size="19" stroke="#000" stroke-width="0.56">y=54.52x-0.98</text>
<text transform="translate(964.40,1377.00) scale(0.840,1)" font-size="19" stroke="#000" stroke-width="0.65">R</text>
<text transform="translate(977.07,1369.30) scale(0.869,1)" font-size="12.5" stroke="#000" stroke-width="0.63">2</text>
<text transform="translate(981.68,1377.00) scale(0.955,1)" font-size="19" stroke="#000" stroke-width="0.58">=0.51</text>
<text transform="translate(446.42,2011.30) scale(0.965,1)" font-size="19" stroke="#000" stroke-width="0.57">y=4.41x</text>
<text transform="translate(507.96,2003.70) scale(1.038,1)" font-size="12" stroke="#000" stroke-width="0.53">-0.43</text>
<text transform="translate(447.12,2037.40) scale(0.792,1)" font-size="19" stroke="#000" stroke-width="0.69">R</text>
<text transform="translate(459.40,2028.60) scale(0.790,1)" font-size="12.5" stroke="#000" stroke-width="0.70">2</text>
<text transform="translate(464.26,2037.40) scale(0.987,1)" font-size="19" stroke="#000" stroke-width="0.56">=0.65</text>
<path d="M118.2,449.3l3.7,3.7l-3.7,3.7l-3.7,-3.7zM148.5,443.0l3.7,3.7l-3.7,3.7l-3.7,-3.7zM173.1,439.9l3.7,3.7l-3.7,3.7l-3.7,-3.7zM165.6,386.6l3.7,3.7l-3.7,3.7l-3.7,-3.7zM224.5,411.7l3.7,3.7l-3.7,3.7l-3.7,-3.7zM230.4,367.4l3.7,3.7l-3.7,3.7l-3.7,-3.7zM255.6,384.3l3.7,3.7l-3.7,3.7l-3.7,-3.7zM269.6,389.1l3.7,3.7l-3.7,3.7l-3.7,-3.7zM263.8,355.3l3.7,3.7l-3.7,3.7l-3.7,-3.7zM285.9,356.9l3.7,3.7l-3.7,3.7l-3.7,-3.7zM293.9,355.9l3.7,3.7l-3.7,3.7l-3.7,-3.7zM301.6,354.8l3.7,3.7l-3.7,3.7l-3.7,-3.7zM310.2,355.9l3.7,3.7l-3.7,3.7l-3.7,-3.7zM302.8,338.3l3.7,3.7l-3.7,3.7l-3.7,-3.7zM310.6,374.5l3.7,3.7l-3.7,3.7l-3.7,-3.7zM324.4,321.8l3.7,3.7l-3.7,3.7l-3.7,-3.7zM323.5,351.7l3.7,3.7l-3.7,3.7l-3.7,-3.7zM326.2,379.9l3.7,3.7l-3.7,3.7l-3.7,-3.7zM327.7,361.5l3.7,3.7l-3.7,3.7l-3.7,-3.7zM331.5,358.4l3.7,3.7l-3.7,3.7l-3.7,-3.7zM334.4,362.6l3.7,3.7l-3.7,3.7l-3.7,-3.7zM340.2,328.1l3.7,3.7l-3.7,3.7l-3.7,-3.7zM347.1,327.7l3.7,3.7l-3.7,3.7l-3.7,-3.7zM377.0,318.5l3.7,3.7l-3.7,3.7l-3.7,-3.7zM377.8,332.7l3.7,3.7l-3.7,3.7l-3.7,-3.7zM377.0,335.8l3.7,3.7l-3.7,3.7l-3.7,-3.7zM393.5,292.6l3.7,3.7l-3.7,3.7l-3.7,-3.7zM408.5,356.5l3.7,3.7l-3.7,3.7l-3.7,-3.7zM414.7,191.1l3.7,3.7l-3.7,3.7l-3.7,-3.7zM427.6,189.4l3.7,3.7l-3.7,3.7l-3.7,-3.7zM432.4,204.0l3.7,3.7l-3.7,3.7l-3.7,-3.7zM463.8,221.8l3.7,3.7l-3.7,3.7l-3.7,-3.7zM528.7,245.6l3.7,3.7l-3.7,3.7l-3.7,-3.7zM560.3,209.7l3.7,3.7l-3.7,3.7l-3.7,-3.7zM567.4,199.6l3.7,3.7l-3.7,3.7l-3.7,-3.7zM417.8,255.4l3.7,3.7l-3.7,3.7l-3.7,-3.7zM428.9,260.0l3.7,3.7l-3.7,3.7l-3.7,-3.7zM478.8,255.0l3.7,3.7l-3.7,3.7l-3.7,-3.7zM495.5,264.2l3.7,3.7l-3.7,3.7l-3.7,-3.7zM463.8,269.2l3.7,3.7l-3.7,3.7l-3.7,-3.7zM477.1,279.4l3.7,3.7l-3.7,3.7l-3.7,-3.7zM457.7,286.9l3.7,3.7l-3.7,3.7l-3.7,-3.7zM451.0,295.5l3.7,3.7l-3.7,3.7l-3.7,-3.7zM418.2,297.6l3.7,3.7l-3.7,3.7l-3.7,-3.7zM431.4,309.3l3.7,3.7l-3.7,3.7l-3.7,-3.7zM439.3,322.0l3.7,3.7l-3.7,3.7l-3.7,-3.7zM458.8,322.0l3.7,3.7l-3.7,3.7l-3.7,-3.7zM621.3,34.3l3.7,3.7l-3.7,3.7l-3.7,-3.7zM475.7,105.1l3.7,3.7l-3.7,3.7l-3.7,-3.7zM542.7,119.1l3.7,3.7l-3.7,3.7l-3.7,-3.7zM585.3,104.1l3.7,3.7l-3.7,3.7l-3.7,-3.7z" fill="#000"/>
<path d="M972.6,205.2l3.7,3.7l-3.7,3.7l-3.7,-3.7zM991.5,199.9l3.7,3.7l-3.7,3.7l-3.7,-3.7zM944.2,217.5l3.7,3.7l-3.7,3.7l-3.7,-3.7zM925.2,240.5l3.7,3.7l-3.7,3.7l-3.7,-3.7zM958.3,240.9l3.7,3.7l-3.7,3.7l-3.7,-3.7zM915.8,255.0l3.7,3.7l-3.7,3.7l-3.7,-3.7zM930.0,250.6l3.7,3.7l-3.7,3.7l-3.7,-3.7zM939.4,250.1l3.7,3.7l-3.7,3.7l-3.7,-3.7zM949.0,259.3l3.7,3.7l-3.7,3.7l-3.7,-3.7zM949.0,263.7l3.7,3.7l-3.7,3.7l-3.7,-3.7zM901.5,273.7l3.7,3.7l-3.7,3.7l-3.7,-3.7zM911.1,281.0l3.7,3.7l-3.7,3.7l-3.7,-3.7zM906.3,287.1l3.7,3.7l-3.7,3.7l-3.7,-3.7zM896.6,289.7l3.7,3.7l-3.7,3.7l-3.7,-3.7zM896.6,292.3l3.7,3.7l-3.7,3.7l-3.7,-3.7zM896.6,303.3l3.7,3.7l-3.7,3.7l-3.7,-3.7zM891.8,312.2l3.7,3.7l-3.7,3.7l-3.7,-3.7zM872.9,315.3l3.7,3.7l-3.7,3.7l-3.7,-3.7zM872.9,322.0l3.7,3.7l-3.7,3.7l-3.7,-3.7zM934.5,316.1l3.7,3.7l-3.7,3.7l-3.7,-3.7zM953.4,315.5l3.7,3.7l-3.7,3.7l-3.7,-3.7zM891.8,322.2l3.7,3.7l-3.7,3.7l-3.7,-3.7zM891.7,326.1l3.7,3.7l-3.7,3.7l-3.7,-3.7zM877.6,331.7l3.7,3.7l-3.7,3.7l-3.7,-3.7zM906.2,328.9l3.7,3.7l-3.7,3.7l-3.7,-3.7zM878.0,344.9l3.7,3.7l-3.7,3.7l-3.7,-3.7zM872.2,349.1l3.7,3.7l-3.7,3.7l-3.7,-3.7zM887.0,347.4l3.7,3.7l-3.7,3.7l-3.7,-3.7zM891.9,349.5l3.7,3.7l-3.7,3.7l-3.7,-3.7zM896.8,351.6l3.7,3.7l-3.7,3.7l-3.7,-3.7zM887.0,356.1l3.7,3.7l-3.7,3.7l-3.7,-3.7zM867.9,359.9l3.7,3.7l-3.7,3.7l-3.7,-3.7zM858.7,366.2l3.7,3.7l-3.7,3.7l-3.7,-3.7zM858.7,372.1l3.7,3.7l-3.7,3.7l-3.7,-3.7zM858.7,378.7l3.7,3.7l-3.7,3.7l-3.7,-3.7zM853.6,381.5l3.7,3.7l-3.7,3.7l-3.7,-3.7zM872.9,376.6l3.7,3.7l-3.7,3.7l-3.7,-3.7zM858.9,403.4l3.7,3.7l-3.7,3.7l-3.7,-3.7zM863.7,431.0l3.7,3.7l-3.7,3.7l-3.7,-3.7zM858.8,433.7l3.7,3.7l-3.7,3.7l-3.7,-3.7zM853.9,440.4l3.7,3.7l-3.7,3.7l-3.7,-3.7zM1001.0,195.9l3.7,3.7l-3.7,3.7l-3.7,-3.7zM1034.1,185.5l3.7,3.7l-3.7,3.7l-3.7,-3.7zM1053.1,187.3l3.7,3.7l-3.7,3.7l-3.7,-3.7zM1152.8,102.4l3.7,3.7l-3.7,3.7l-3.7,-3.7zM1219.3,116.8l3.7,3.7l-3.7,3.7l-3.7,-3.7zM1295.2,103.3l3.7,3.7l-3.7,3.7l-3.7,-3.7zM1370.8,33.6l3.7,3.7l-3.7,3.7l-3.7,-3.7z" fill="#000"/>
<path d="M102.8,963.6l3.7,3.7l-3.7,3.7l-3.7,-3.7zM152.7,953.2l3.7,3.7l-3.7,3.7l-3.7,-3.7zM144.3,975.9l3.7,3.7l-3.7,3.7l-3.7,-3.7zM169.1,982.8l3.7,3.7l-3.7,3.7l-3.7,-3.7zM190.0,924.8l3.7,3.7l-3.7,3.7l-3.7,-3.7zM206.7,918.5l3.7,3.7l-3.7,3.7l-3.7,-3.7zM215.1,935.1l3.7,3.7l-3.7,3.7l-3.7,-3.7zM194.2,952.6l3.7,3.7l-3.7,3.7l-3.7,-3.7zM215.1,952.6l3.7,3.7l-3.7,3.7l-3.7,-3.7zM248.5,952.6l3.7,3.7l-3.7,3.7l-3.7,-3.7zM264.8,948.3l3.7,3.7l-3.7,3.7l-3.7,-3.7zM256.4,971.0l3.7,3.7l-3.7,3.7l-3.7,-3.7zM285.4,892.6l3.7,3.7l-3.7,3.7l-3.7,-3.7zM185.8,1007.2l3.7,3.7l-3.7,3.7l-3.7,-3.7zM181.6,1045.1l3.7,3.7l-3.7,3.7l-3.7,-3.7zM215.1,1035.1l3.7,3.7l-3.7,3.7l-3.7,-3.7zM215.1,1038.6l3.7,3.7l-3.7,3.7l-3.7,-3.7zM306.2,843.3l3.7,3.7l-3.7,3.7l-3.7,-3.7zM351.9,852.8l3.7,3.7l-3.7,3.7l-3.7,-3.7zM372.6,857.6l3.7,3.7l-3.7,3.7l-3.7,-3.7zM414.2,843.0l3.7,3.7l-3.7,3.7l-3.7,-3.7zM339.4,876.7l3.7,3.7l-3.7,3.7l-3.7,-3.7zM364.4,883.8l3.7,3.7l-3.7,3.7l-3.7,-3.7zM302.0,889.9l3.7,3.7l-3.7,3.7l-3.7,-3.7zM351.9,895.0l3.7,3.7l-3.7,3.7l-3.7,-3.7zM326.8,906.0l3.7,3.7l-3.7,3.7l-3.7,-3.7zM335.2,918.6l3.7,3.7l-3.7,3.7l-3.7,-3.7zM368.6,918.9l3.7,3.7l-3.7,3.7l-3.7,-3.7zM397.7,915.0l3.7,3.7l-3.7,3.7l-3.7,-3.7zM393.3,932.1l3.7,3.7l-3.7,3.7l-3.7,-3.7zM302.0,924.5l3.7,3.7l-3.7,3.7l-3.7,-3.7zM306.2,951.6l3.7,3.7l-3.7,3.7l-3.7,-3.7zM293.7,957.6l3.7,3.7l-3.7,3.7l-3.7,-3.7zM326.8,950.7l3.7,3.7l-3.7,3.7l-3.7,-3.7zM322.6,959.3l3.7,3.7l-3.7,3.7l-3.7,-3.7zM343.8,954.7l3.7,3.7l-3.7,3.7l-3.7,-3.7zM318.5,980.2l3.7,3.7l-3.7,3.7l-3.7,-3.7zM414.2,985.1l3.7,3.7l-3.7,3.7l-3.7,-3.7zM617.6,634.2l3.7,3.7l-3.7,3.7l-3.7,-3.7zM576.0,703.3l3.7,3.7l-3.7,3.7l-3.7,-3.7zM605.1,704.1l3.7,3.7l-3.7,3.7l-3.7,-3.7zM592.7,717.9l3.7,3.7l-3.7,3.7l-3.7,-3.7zM443.3,801.7l3.7,3.7l-3.7,3.7l-3.7,-3.7zM468.3,789.0l3.7,3.7l-3.7,3.7l-3.7,-3.7zM488.9,797.5l3.7,3.7l-3.7,3.7l-3.7,-3.7zM546.9,787.4l3.7,3.7l-3.7,3.7l-3.7,-3.7zM551.0,807.0l3.7,3.7l-3.7,3.7l-3.7,-3.7zM567.5,819.6l3.7,3.7l-3.7,3.7l-3.7,-3.7zM480.8,852.5l3.7,3.7l-3.7,3.7l-3.7,-3.7zM567.5,866.3l3.7,3.7l-3.7,3.7l-3.7,-3.7zM576.0,861.7l3.7,3.7l-3.7,3.7l-3.7,-3.7zM580.1,929.1l3.7,3.7l-3.7,3.7l-3.7,-3.7z" fill="#000"/>
<path d="M1012.7,849.8l3.7,3.7l-3.7,3.7l-3.7,-3.7zM970.6,889.1l3.7,3.7l-3.7,3.7l-3.7,-3.7zM993.9,914.5l3.7,3.7l-3.7,3.7l-3.7,-3.7zM1018.5,921.1l3.7,3.7l-3.7,3.7l-3.7,-3.7zM953.3,930.8l3.7,3.7l-3.7,3.7l-3.7,-3.7zM975.1,944.1l3.7,3.7l-3.7,3.7l-3.7,-3.7zM986.9,948.9l3.7,3.7l-3.7,3.7l-3.7,-3.7zM1014.3,948.3l3.7,3.7l-3.7,3.7l-3.7,-3.7zM904.3,959.1l3.7,3.7l-3.7,3.7l-3.7,-3.7zM936.4,966.1l3.7,3.7l-3.7,3.7l-3.7,-3.7zM913.0,971.6l3.7,3.7l-3.7,3.7l-3.7,-3.7zM909.9,980.4l3.7,3.7l-3.7,3.7l-3.7,-3.7zM921.3,978.2l3.7,3.7l-3.7,3.7l-3.7,-3.7zM973.7,975.4l3.7,3.7l-3.7,3.7l-3.7,-3.7zM902.6,1002.6l3.7,3.7l-3.7,3.7l-3.7,-3.7zM892.5,1029.9l3.7,3.7l-3.7,3.7l-3.7,-3.7zM869.5,1032.9l3.7,3.7l-3.7,3.7l-3.7,-3.7zM866.4,1039.5l3.7,3.7l-3.7,3.7l-3.7,-3.7zM1070.7,786.7l3.7,3.7l-3.7,3.7l-3.7,-3.7zM1118.0,799.2l3.7,3.7l-3.7,3.7l-3.7,-3.7zM1143.1,795.3l3.7,3.7l-3.7,3.7l-3.7,-3.7zM1216.9,785.3l3.7,3.7l-3.7,3.7l-3.7,-3.7zM1206.6,804.8l3.7,3.7l-3.7,3.7l-3.7,-3.7zM1137.0,848.9l3.7,3.7l-3.7,3.7l-3.7,-3.7zM1144.5,854.5l3.7,3.7l-3.7,3.7l-3.7,-3.7zM1143.1,858.7l3.7,3.7l-3.7,3.7l-3.7,-3.7zM1198.1,862.8l3.7,3.7l-3.7,3.7l-3.7,-3.7zM1056.2,873.0l3.7,3.7l-3.7,3.7l-3.7,-3.7zM1138.6,886.5l3.7,3.7l-3.7,3.7l-3.7,-3.7zM1222.6,880.3l3.7,3.7l-3.7,3.7l-3.7,-3.7zM1066.5,902.3l3.7,3.7l-3.7,3.7l-3.7,-3.7zM1130.0,915.1l3.7,3.7l-3.7,3.7l-3.7,-3.7zM1056.2,920.6l3.7,3.7l-3.7,3.7l-3.7,-3.7zM1056.2,925.1l3.7,3.7l-3.7,3.7l-3.7,-3.7zM1171.8,928.0l3.7,3.7l-3.7,3.7l-3.7,-3.7zM1085.4,947.4l3.7,3.7l-3.7,3.7l-3.7,-3.7zM1142.8,946.4l3.7,3.7l-3.7,3.7l-3.7,-3.7zM1152.8,948.5l3.7,3.7l-3.7,3.7l-3.7,-3.7zM1163.0,948.2l3.7,3.7l-3.7,3.7l-3.7,-3.7zM1130.0,954.8l3.7,3.7l-3.7,3.7l-3.7,-3.7zM1182.1,953.4l3.7,3.7l-3.7,3.7l-3.7,-3.7zM1355.5,633.8l3.7,3.7l-3.7,3.7l-3.7,-3.7zM1318.1,702.1l3.7,3.7l-3.7,3.7l-3.7,-3.7zM1336.9,702.9l3.7,3.7l-3.7,3.7l-3.7,-3.7zM1239.9,716.4l3.7,3.7l-3.7,3.7l-3.7,-3.7zM1245.7,817.0l3.7,3.7l-3.7,3.7l-3.7,-3.7zM1245.7,840.3l3.7,3.7l-3.7,3.7l-3.7,-3.7zM1284.9,839.9l3.7,3.7l-3.7,3.7l-3.7,-3.7zM1245.7,891.4l3.7,3.7l-3.7,3.7l-3.7,-3.7zM1239.9,911.5l3.7,3.7l-3.7,3.7l-3.7,-3.7zM1251.5,914.6l3.7,3.7l-3.7,3.7l-3.7,-3.7zM1261.7,950.9l3.7,3.7l-3.7,3.7l-3.7,-3.7z" fill="#000"/>
<path d="M174.0,1234.0l3.7,3.7l-3.7,3.7l-3.7,-3.7zM147.4,1303.8l3.7,3.7l-3.7,3.7l-3.7,-3.7zM186.9,1303.1l3.7,3.7l-3.7,3.7l-3.7,-3.7zM176.7,1317.6l3.7,3.7l-3.7,3.7l-3.7,-3.7zM175.7,1401.1l3.7,3.7l-3.7,3.7l-3.7,-3.7zM247.2,1386.6l3.7,3.7l-3.7,3.7l-3.7,-3.7zM261.8,1396.9l3.7,3.7l-3.7,3.7l-3.7,-3.7zM260.0,1406.4l3.7,3.7l-3.7,3.7l-3.7,-3.7zM301.8,1388.3l3.7,3.7l-3.7,3.7l-3.7,-3.7zM185.7,1441.8l3.7,3.7l-3.7,3.7l-3.7,-3.7zM143.0,1451.6l3.7,3.7l-3.7,3.7l-3.7,-3.7zM154.1,1460.2l3.7,3.7l-3.7,3.7l-3.7,-3.7zM176.1,1465.1l3.7,3.7l-3.7,3.7l-3.7,-3.7zM233.5,1442.2l3.7,3.7l-3.7,3.7l-3.7,-3.7zM278.8,1451.1l3.7,3.7l-3.7,3.7l-3.7,-3.7zM304.1,1456.2l3.7,3.7l-3.7,3.7l-3.7,-3.7zM244.4,1482.6l3.7,3.7l-3.7,3.7l-3.7,-3.7zM272.5,1488.8l3.7,3.7l-3.7,3.7l-3.7,-3.7zM203.3,1517.3l3.7,3.7l-3.7,3.7l-3.7,-3.7zM210.5,1517.3l3.7,3.7l-3.7,3.7l-3.7,-3.7zM239.1,1513.8l3.7,3.7l-3.7,3.7l-3.7,-3.7zM269.4,1527.7l3.7,3.7l-3.7,3.7l-3.7,-3.7zM279.9,1530.5l3.7,3.7l-3.7,3.7l-3.7,-3.7zM320.4,1517.4l3.7,3.7l-3.7,3.7l-3.7,-3.7zM321.8,1523.0l3.7,3.7l-3.7,3.7l-3.7,-3.7zM243.3,1553.2l3.7,3.7l-3.7,3.7l-3.7,-3.7zM257.6,1556.3l3.7,3.7l-3.7,3.7l-3.7,-3.7zM272.5,1557.7l3.7,3.7l-3.7,3.7l-3.7,-3.7zM298.3,1550.2l3.7,3.7l-3.7,3.7l-3.7,-3.7zM301.1,1549.1l3.7,3.7l-3.7,3.7l-3.7,-3.7zM330.0,1418.5l3.7,3.7l-3.7,3.7l-3.7,-3.7zM441.5,1475.5l3.7,3.7l-3.7,3.7l-3.7,-3.7zM337.4,1493.6l3.7,3.7l-3.7,3.7l-3.7,-3.7zM325.9,1504.7l3.7,3.7l-3.7,3.7l-3.7,-3.7zM367.7,1523.2l3.7,3.7l-3.7,3.7l-3.7,-3.7zM464.1,1533.7l3.7,3.7l-3.7,3.7l-3.7,-3.7zM326.5,1549.0l3.7,3.7l-3.7,3.7l-3.7,-3.7zM328.3,1546.9l3.7,3.7l-3.7,3.7l-3.7,-3.7zM348.8,1551.5l3.7,3.7l-3.7,3.7l-3.7,-3.7zM381.2,1551.1l3.7,3.7l-3.7,3.7l-3.7,-3.7zM385.8,1551.1l3.7,3.7l-3.7,3.7l-3.7,-3.7zM486.4,1569.2l3.7,3.7l-3.7,3.7l-3.7,-3.7zM544.2,1491.2l3.7,3.7l-3.7,3.7l-3.7,-3.7zM520.5,1561.9l3.7,3.7l-3.7,3.7l-3.7,-3.7zM539.9,1574.2l3.7,3.7l-3.7,3.7l-3.7,-3.7zM548.7,1578.3l3.7,3.7l-3.7,3.7l-3.7,-3.7zM542.7,1583.3l3.7,3.7l-3.7,3.7l-3.7,-3.7zM605.0,1581.0l3.7,3.7l-3.7,3.7l-3.7,-3.7zM569.6,1605.5l3.7,3.7l-3.7,3.7l-3.7,-3.7zM560.0,1633.3l3.7,3.7l-3.7,3.7l-3.7,-3.7zM585.9,1636.4l3.7,3.7l-3.7,3.7l-3.7,-3.7zM610.1,1642.7l3.7,3.7l-3.7,3.7l-3.7,-3.7z" fill="#000"/>
<path d="M853.0,1578.2l3.7,3.7l-3.7,3.7l-3.7,-3.7zM853.0,1602.6l3.7,3.7l-3.7,3.7l-3.7,-3.7zM853.0,1633.0l3.7,3.7l-3.7,3.7l-3.7,-3.7zM904.3,1489.0l3.7,3.7l-3.7,3.7l-3.7,-3.7zM904.3,1546.8l3.7,3.7l-3.7,3.7l-3.7,-3.7zM904.3,1571.7l3.7,3.7l-3.7,3.7l-3.7,-3.7zM904.3,1630.1l3.7,3.7l-3.7,3.7l-3.7,-3.7zM955.4,1530.8l3.7,3.7l-3.7,3.7l-3.7,-3.7zM955.4,1566.5l3.7,3.7l-3.7,3.7l-3.7,-3.7zM955.4,1575.7l3.7,3.7l-3.7,3.7l-3.7,-3.7zM1006.8,1511.6l3.7,3.7l-3.7,3.7l-3.7,-3.7zM1006.8,1520.9l3.7,3.7l-3.7,3.7l-3.7,-3.7zM1006.8,1544.1l3.7,3.7l-3.7,3.7l-3.7,-3.7zM1006.8,1549.2l3.7,3.7l-3.7,3.7l-3.7,-3.7zM1006.8,1559.4l3.7,3.7l-3.7,3.7l-3.7,-3.7zM1058.1,1416.8l3.7,3.7l-3.7,3.7l-3.7,-3.7zM1058.1,1449.9l3.7,3.7l-3.7,3.7l-3.7,-3.7zM1058.1,1454.2l3.7,3.7l-3.7,3.7l-3.7,-3.7zM1058.1,1515.2l3.7,3.7l-3.7,3.7l-3.7,-3.7zM1058.1,1547.7l3.7,3.7l-3.7,3.7l-3.7,-3.7zM1058.1,1639.6l3.7,3.7l-3.7,3.7l-3.7,-3.7zM1109.5,1404.6l3.7,3.7l-3.7,3.7l-3.7,-3.7zM1109.5,1462.7l3.7,3.7l-3.7,3.7l-3.7,-3.7zM1109.5,1473.3l3.7,3.7l-3.7,3.7l-3.7,-3.7zM1109.5,1491.4l3.7,3.7l-3.7,3.7l-3.7,-3.7zM1160.6,1394.9l3.7,3.7l-3.7,3.7l-3.7,-3.7zM1160.6,1399.0l3.7,3.7l-3.7,3.7l-3.7,-3.7zM1160.6,1449.4l3.7,3.7l-3.7,3.7l-3.7,-3.7zM1160.6,1486.4l3.7,3.7l-3.7,3.7l-3.7,-3.7zM1160.6,1502.5l3.7,3.7l-3.7,3.7l-3.7,-3.7zM1160.6,1514.6l3.7,3.7l-3.7,3.7l-3.7,-3.7zM1160.6,1520.2l3.7,3.7l-3.7,3.7l-3.7,-3.7zM1160.6,1528.1l3.7,3.7l-3.7,3.7l-3.7,-3.7zM1160.6,1548.1l3.7,3.7l-3.7,3.7l-3.7,-3.7zM1160.6,1553.6l3.7,3.7l-3.7,3.7l-3.7,-3.7zM1160.6,1580.4l3.7,3.7l-3.7,3.7l-3.7,-3.7zM1211.9,1385.8l3.7,3.7l-3.7,3.7l-3.7,-3.7zM1211.9,1386.8l3.7,3.7l-3.7,3.7l-3.7,-3.7zM1211.9,1440.8l3.7,3.7l-3.7,3.7l-3.7,-3.7zM1211.9,1458.2l3.7,3.7l-3.7,3.7l-3.7,-3.7zM1211.9,1480.5l3.7,3.7l-3.7,3.7l-3.7,-3.7zM1211.9,1550.8l3.7,3.7l-3.7,3.7l-3.7,-3.7zM1263.2,1316.4l3.7,3.7l-3.7,3.7l-3.7,-3.7zM1263.2,1439.8l3.7,3.7l-3.7,3.7l-3.7,-3.7zM1263.2,1525.1l3.7,3.7l-3.7,3.7l-3.7,-3.7zM1314.3,1302.4l3.7,3.7l-3.7,3.7l-3.7,-3.7zM1365.6,1233.6l3.7,3.7l-3.7,3.7l-3.7,-3.7z" fill="#000"/>
<path d="M124.7,1833.7l3.7,3.7l-3.7,3.7l-3.7,-3.7zM170.3,1903.0l3.7,3.7l-3.7,3.7l-3.7,-3.7zM192.9,1902.2l3.7,3.7l-3.7,3.7l-3.7,-3.7zM213.7,1916.8l3.7,3.7l-3.7,3.7l-3.7,-3.7zM287.6,1985.6l3.7,3.7l-3.7,3.7l-3.7,-3.7zM306.4,1986.9l3.7,3.7l-3.7,3.7l-3.7,-3.7zM259.0,1995.6l3.7,3.7l-3.7,3.7l-3.7,-3.7zM243.8,1999.8l3.7,3.7l-3.7,3.7l-3.7,-3.7zM217.4,2005.0l3.7,3.7l-3.7,3.7l-3.7,-3.7zM245.6,2017.3l3.7,3.7l-3.7,3.7l-3.7,-3.7zM223.1,2040.5l3.7,3.7l-3.7,3.7l-3.7,-3.7zM238.1,2040.3l3.7,3.7l-3.7,3.7l-3.7,-3.7zM251.5,2049.9l3.7,3.7l-3.7,3.7l-3.7,-3.7zM255.7,2049.9l3.7,3.7l-3.7,3.7l-3.7,-3.7zM255.3,2054.9l3.7,3.7l-3.7,3.7l-3.7,-3.7zM230.6,2058.7l3.7,3.7l-3.7,3.7l-3.7,-3.7zM224.8,2063.7l3.7,3.7l-3.7,3.7l-3.7,-3.7zM247.7,2080.9l3.7,3.7l-3.7,3.7l-3.7,-3.7zM263.0,2086.4l3.7,3.7l-3.7,3.7l-3.7,-3.7zM257.4,2091.7l3.7,3.7l-3.7,3.7l-3.7,-3.7zM257.4,2102.7l3.7,3.7l-3.7,3.7l-3.7,-3.7zM255.3,2115.3l3.7,3.7l-3.7,3.7l-3.7,-3.7zM289.5,2120.6l3.7,3.7l-3.7,3.7l-3.7,-3.7zM289.5,2128.5l3.7,3.7l-3.7,3.7l-3.7,-3.7zM289.5,2148.8l3.7,3.7l-3.7,3.7l-3.7,-3.7zM289.5,2151.2l3.7,3.7l-3.7,3.7l-3.7,-3.7zM308.4,2115.3l3.7,3.7l-3.7,3.7l-3.7,-3.7zM332.6,2112.2l3.7,3.7l-3.7,3.7l-3.7,-3.7zM333.8,2147.0l3.7,3.7l-3.7,3.7l-3.7,-3.7zM335.2,2146.6l3.7,3.7l-3.7,3.7l-3.7,-3.7zM332.6,2154.0l3.7,3.7l-3.7,3.7l-3.7,-3.7zM344.5,2155.0l3.7,3.7l-3.7,3.7l-3.7,-3.7zM363.3,2073.2l3.7,3.7l-3.7,3.7l-3.7,-3.7zM401.0,2089.2l3.7,3.7l-3.7,3.7l-3.7,-3.7zM395.5,2115.0l3.7,3.7l-3.7,3.7l-3.7,-3.7zM391.6,2124.7l3.7,3.7l-3.7,3.7l-3.7,-3.7zM393.6,2148.4l3.7,3.7l-3.7,3.7l-3.7,-3.7zM457.8,2121.1l3.7,3.7l-3.7,3.7l-3.7,-3.7zM448.0,2131.2l3.7,3.7l-3.7,3.7l-3.7,-3.7zM457.8,2148.6l3.7,3.7l-3.7,3.7l-3.7,-3.7zM445.9,2171.6l3.7,3.7l-3.7,3.7l-3.7,-3.7zM450.4,2175.4l3.7,3.7l-3.7,3.7l-3.7,-3.7zM438.8,2180.7l3.7,3.7l-3.7,3.7l-3.7,-3.7zM453.9,2239.7l3.7,3.7l-3.7,3.7l-3.7,-3.7zM539.2,2144.0l3.7,3.7l-3.7,3.7l-3.7,-3.7zM552.3,2159.4l3.7,3.7l-3.7,3.7l-3.7,-3.7zM533.5,2166.7l3.7,3.7l-3.7,3.7l-3.7,-3.7zM552.3,2178.6l3.7,3.7l-3.7,3.7l-3.7,-3.7zM592.2,2202.5l3.7,3.7l-3.7,3.7l-3.7,-3.7zM507.1,2230.0l3.7,3.7l-3.7,3.7l-3.7,-3.7zM554.4,2233.2l3.7,3.7l-3.7,3.7l-3.7,-3.7z" fill="#000"/>
<path d="M118.1,480.9L621.3,144.3" stroke="#bf0008" stroke-width="2.2" fill="none"/>
<path d="M853.77,422.86 L857.01,406.44 L860.24,393.79 L863.47,383.25 L866.70,374.08 L869.93,365.91 L873.16,358.49 L876.39,351.66 L879.62,345.32 L882.85,339.37 L886.09,333.77 L889.32,328.47 L892.55,323.42 L895.78,318.60 L899.01,313.99 L902.24,309.55 L905.47,305.28 L908.70,301.16 L911.94,297.17 L915.17,293.31 L918.40,289.56 L921.63,285.92 L924.86,282.38 L928.09,278.94 L931.32,275.57 L934.55,272.29 L937.79,269.09 L941.02,265.96 L944.25,262.89 L947.48,259.89 L950.71,256.95 L953.94,254.06 L957.17,251.23 L960.40,248.46 L963.64,245.73 L966.87,243.05 L970.10,240.41 L973.33,237.82 L976.56,235.27 L979.79,232.76 L983.02,230.29 L986.25,227.85 L989.49,225.45 L992.72,223.08 L995.95,220.75 L999.18,218.45 L1002.41,216.17 L1005.64,213.93 L1008.87,211.72 L1012.10,209.53 L1015.33,207.37 L1018.57,205.24 L1021.80,203.13 L1025.03,201.04 L1028.26,198.98 L1031.49,196.95 L1034.72,194.93 L1037.95,192.94 L1041.18,190.96 L1044.42,189.01 L1047.65,187.08 L1050.88,185.17 L1054.11,183.27 L1057.34,181.40 L1060.57,179.54 L1063.80,177.70 L1067.03,175.87 L1070.27,174.07 L1073.50,172.28 L1076.73,170.50 L1079.96,168.74 L1083.19,167.00 L1086.42,165.27 L1089.65,163.56 L1092.88,161.86 L1096.12,160.17 L1099.35,158.50 L1102.58,156.84 L1105.81,155.19 L1109.04,153.56 L1112.27,151.94 L1115.50,150.33 L1118.73,148.73 L1121.97,147.15 L1125.20,145.58 L1128.43,144.01 L1131.66,142.46 L1134.89,140.92 L1138.12,139.39 L1141.35,137.88 L1144.58,136.37 L1147.81,134.87 L1151.05,133.38 L1154.28,131.91 L1157.51,130.44 L1160.74,128.98 L1163.97,127.53 L1167.20,126.09 L1170.43,124.66 L1173.66,123.24 L1176.90,121.82 L1180.13,120.42 L1183.36,119.02 L1186.59,117.63 L1189.82,116.25 L1193.05,114.88 L1196.28,113.52 L1199.51,112.16 L1202.75,110.81 L1205.98,109.47 L1209.21,108.14 L1212.44,106.81 L1215.67,105.49 L1218.90,104.18 L1222.13,102.88 L1225.36,101.58 L1228.60,100.29 L1231.83,99.01 L1235.06,97.73 L1238.29,96.46 L1241.52,95.20 L1244.75,93.94 L1247.98,92.69 L1251.21,91.45 L1254.45,90.21 L1257.68,88.97 L1260.91,87.75 L1264.14,86.53 L1267.37,85.31 L1270.60,84.10 L1273.83,82.90 L1277.06,81.70 L1280.30,80.51 L1283.53,79.33 L1286.76,78.15 L1289.99,76.97 L1293.22,75.80 L1296.45,74.64 L1299.68,73.48 L1302.91,72.32 L1306.14,71.17 L1309.38,70.03 L1312.61,68.89 L1315.84,67.75 L1319.07,66.62 L1322.30,65.50 L1325.53,64.38 L1328.76,63.26 L1331.99,62.15 L1335.23,61.05 L1338.46,59.95 L1341.69,58.85 L1344.92,57.76 L1348.15,56.67 L1351.38,55.59 L1354.61,54.51 L1357.84,53.43 L1361.08,52.36 L1364.31,51.29 L1367.54,50.23 L1370.77,49.17" stroke="#bf0008" stroke-width="2.2" fill="none" stroke-linejoin="round" clip-path="url(#clipb)"/>
<path d="M102.75,1026.04 L105.97,1024.45 L109.19,1022.85 L112.41,1021.25 L115.63,1019.66 L118.86,1018.06 L122.08,1016.47 L125.30,1014.87 L128.52,1013.27 L131.74,1011.68 L134.96,1010.08 L138.18,1008.48 L141.40,1006.89 L144.62,1005.29 L147.84,1003.70 L151.06,1002.10 L154.28,1000.50 L157.50,998.91 L160.72,997.31 L163.94,995.72 L167.16,994.12 L170.38,992.52 L173.60,990.93 L176.82,989.33 L180.04,987.74 L183.26,986.14 L186.48,984.54 L189.70,982.95 L192.92,981.35 L196.14,979.76 L199.36,978.16 L202.59,976.56 L205.81,974.97 L209.03,973.37 L212.25,971.77 L215.47,970.18 L218.69,968.58 L221.91,966.99 L225.13,965.39 L228.35,963.79 L231.57,962.20 L234.79,960.60 L238.01,959.01 L241.23,957.41 L244.45,955.81 L247.67,954.22 L250.89,952.62 L254.11,951.03 L257.33,949.43 L260.55,947.83 L263.77,946.24 L266.99,944.64 L270.21,943.04 L273.43,941.45 L276.65,939.85 L279.87,938.26 L283.09,936.66 L286.32,935.06 L289.54,933.47 L292.76,931.87 L295.98,930.28 L299.20,928.68 L302.42,927.08 L305.64,925.49 L308.86,923.89 L312.08,922.30 L315.30,920.70 L318.52,919.10 L321.74,917.51 L324.96,915.91 L328.18,914.32 L331.40,912.72 L334.62,911.12 L337.84,909.53 L341.06,907.93 L344.28,906.33 L347.50,904.74 L350.72,903.14 L353.94,901.55 L357.16,899.95 L360.38,898.35 L363.60,896.76 L366.82,895.16 L370.05,893.57 L373.27,891.97 L376.49,890.37 L379.71,888.78 L382.93,887.18 L386.15,885.59 L389.37,883.99 L392.59,882.39 L395.81,880.80 L399.03,879.20 L402.25,877.61 L405.47,876.01 L408.69,874.41 L411.91,872.82 L415.13,871.22 L418.35,869.62 L421.57,868.03 L424.79,866.43 L428.01,864.84 L431.23,863.24 L434.45,861.64 L437.67,860.05 L440.89,858.45 L444.11,856.86 L447.33,855.26 L450.55,853.66 L453.78,852.07 L457.00,850.47 L460.22,848.88 L463.44,847.28 L466.66,845.68 L469.88,844.09 L473.10,842.49 L476.32,840.89 L479.54,839.30 L482.76,837.70 L485.98,836.11 L489.20,834.51 L492.42,832.91 L495.64,831.32 L498.86,829.72 L502.08,828.13 L505.30,826.53 L508.52,824.93 L511.74,823.34 L514.96,821.74 L518.18,820.15 L521.40,818.55 L524.62,816.95 L527.84,815.36 L531.06,813.76 L534.28,812.17 L537.51,810.57 L540.73,808.97 L543.95,807.38 L547.17,805.78 L550.39,804.18 L553.61,802.59 L556.83,800.99 L560.05,799.40 L563.27,797.80 L566.49,796.20 L569.71,794.61 L572.93,793.01 L576.15,791.42 L579.37,789.82 L582.59,788.22 L585.81,786.63 L589.03,785.03 L592.25,783.44 L595.47,781.84 L598.69,780.24 L601.91,778.65 L605.13,777.05 L608.35,775.46 L611.57,773.86 L614.79,772.26 L618.01,770.67" stroke="#bf0008" stroke-width="2.2" fill="none" stroke-linejoin="round" clip-path="url(#clipc)"/>
<path d="M868.01,1007.70 L871.05,1006.27 L874.10,1004.84 L877.15,1003.40 L880.20,1001.97 L883.24,1000.54 L886.29,999.11 L889.34,997.68 L892.39,996.25 L895.43,994.82 L898.48,993.39 L901.53,991.95 L904.58,990.52 L907.62,989.09 L910.67,987.66 L913.72,986.23 L916.77,984.80 L919.81,983.37 L922.86,981.94 L925.91,980.50 L928.95,979.07 L932.00,977.64 L935.05,976.21 L938.10,974.78 L941.14,973.35 L944.19,971.92 L947.24,970.49 L950.29,969.06 L953.33,967.62 L956.38,966.19 L959.43,964.76 L962.48,963.33 L965.52,961.90 L968.57,960.47 L971.62,959.04 L974.67,957.61 L977.71,956.17 L980.76,954.74 L983.81,953.31 L986.85,951.88 L989.90,950.45 L992.95,949.02 L996.00,947.59 L999.04,946.16 L1002.09,944.72 L1005.14,943.29 L1008.19,941.86 L1011.23,940.43 L1014.28,939.00 L1017.33,937.57 L1020.38,936.14 L1023.42,934.71 L1026.47,933.28 L1029.52,931.84 L1032.57,930.41 L1035.61,928.98 L1038.66,927.55 L1041.71,926.12 L1044.75,924.69 L1047.80,923.26 L1050.85,921.83 L1053.90,920.39 L1056.94,918.96 L1059.99,917.53 L1063.04,916.10 L1066.09,914.67 L1069.13,913.24 L1072.18,911.81 L1075.23,910.38 L1078.28,908.94 L1081.32,907.51 L1084.37,906.08 L1087.42,904.65 L1090.47,903.22 L1093.51,901.79 L1096.56,900.36 L1099.61,898.93 L1102.65,897.50 L1105.70,896.06 L1108.75,894.63 L1111.80,893.20 L1114.84,891.77 L1117.89,890.34 L1120.94,888.91 L1123.99,887.48 L1127.03,886.05 L1130.08,884.61 L1133.13,883.18 L1136.18,881.75 L1139.22,880.32 L1142.27,878.89 L1145.32,877.46 L1148.37,876.03 L1151.41,874.60 L1154.46,873.16 L1157.51,871.73 L1160.55,870.30 L1163.60,868.87 L1166.65,867.44 L1169.70,866.01 L1172.74,864.58 L1175.79,863.15 L1178.84,861.72 L1181.89,860.28 L1184.93,858.85 L1187.98,857.42 L1191.03,855.99 L1194.08,854.56 L1197.12,853.13 L1200.17,851.70 L1203.22,850.27 L1206.27,848.83 L1209.31,847.40 L1212.36,845.97 L1215.41,844.54 L1218.45,843.11 L1221.50,841.68 L1224.55,840.25 L1227.60,838.82 L1230.64,837.39 L1233.69,835.95 L1236.74,834.52 L1239.79,833.09 L1242.83,831.66 L1245.88,830.23 L1248.93,828.80 L1251.98,827.37 L1255.02,825.94 L1258.07,824.50 L1261.12,823.07 L1264.17,821.64 L1267.21,820.21 L1270.26,818.78 L1273.31,817.35 L1276.35,815.92 L1279.40,814.49 L1282.45,813.05 L1285.50,811.62 L1288.54,810.19 L1291.59,808.76 L1294.64,807.33 L1297.69,805.90 L1300.73,804.47 L1303.78,803.04 L1306.83,801.61 L1309.88,800.17 L1312.92,798.74 L1315.97,797.31 L1319.02,795.88 L1322.07,794.45 L1325.11,793.02 L1328.16,791.59 L1331.21,790.16 L1334.25,788.72 L1337.30,787.29 L1340.35,785.86 L1343.40,784.43 L1346.44,783.00 L1349.49,781.57 L1352.54,780.14 L1355.59,778.71" stroke="#bf0008" stroke-width="2.2" fill="none" stroke-linejoin="round" clip-path="url(#clipd)"/>
<path d="M143.05,1376.26 L145.97,1379.49 L148.89,1382.68 L151.82,1385.82 L154.74,1388.91 L157.66,1391.96 L160.59,1394.96 L163.51,1397.92 L166.44,1400.83 L169.36,1403.71 L172.28,1406.54 L175.21,1409.34 L178.13,1412.09 L181.06,1414.81 L183.98,1417.49 L186.90,1420.13 L189.83,1422.73 L192.75,1425.30 L195.67,1427.83 L198.60,1430.33 L201.52,1432.80 L204.45,1435.23 L207.37,1437.63 L210.29,1439.99 L213.22,1442.33 L216.14,1444.63 L219.07,1446.91 L221.99,1449.15 L224.91,1451.36 L227.84,1453.55 L230.76,1455.71 L233.69,1457.83 L236.61,1459.93 L239.53,1462.01 L242.46,1464.06 L245.38,1466.08 L248.30,1468.07 L251.23,1470.05 L254.15,1471.99 L257.08,1473.91 L260.00,1475.81 L262.92,1477.68 L265.85,1479.54 L268.77,1481.36 L271.70,1483.17 L274.62,1484.95 L277.54,1486.71 L280.47,1488.46 L283.39,1490.17 L286.31,1491.87 L289.24,1493.55 L292.16,1495.21 L295.09,1496.85 L298.01,1498.47 L300.93,1500.07 L303.86,1501.65 L306.78,1503.21 L309.71,1504.76 L312.63,1506.28 L315.55,1507.79 L318.48,1509.29 L321.40,1510.76 L324.32,1512.22 L327.25,1513.66 L330.17,1515.08 L333.10,1516.49 L336.02,1517.88 L338.94,1519.26 L341.87,1520.62 L344.79,1521.97 L347.72,1523.30 L350.64,1524.62 L353.56,1525.92 L356.49,1527.21 L359.41,1528.48 L362.34,1529.74 L365.26,1530.99 L368.18,1532.22 L371.11,1533.44 L374.03,1534.65 L376.95,1535.84 L379.88,1537.02 L382.80,1538.19 L385.73,1539.35 L388.65,1540.49 L391.57,1541.62 L394.50,1542.74 L397.42,1543.85 L400.35,1544.95 L403.27,1546.03 L406.19,1547.11 L409.12,1548.17 L412.04,1549.22 L414.96,1550.26 L417.89,1551.29 L420.81,1552.31 L423.74,1553.32 L426.66,1554.32 L429.58,1555.31 L432.51,1556.29 L435.43,1557.26 L438.36,1558.22 L441.28,1559.17 L444.20,1560.11 L447.13,1561.04 L450.05,1561.97 L452.98,1562.88 L455.90,1563.79 L458.82,1564.68 L461.75,1565.57 L464.67,1566.45 L467.59,1567.32 L470.52,1568.18 L473.44,1569.03 L476.37,1569.88 L479.29,1570.71 L482.21,1571.54 L485.14,1572.37 L488.06,1573.18 L490.99,1573.99 L493.91,1574.78 L496.83,1575.57 L499.76,1576.36 L502.68,1577.13 L505.60,1577.90 L508.53,1578.67 L511.45,1579.42 L514.38,1580.17 L517.30,1580.91 L520.22,1581.64 L523.15,1582.37 L526.07,1583.09 L529.00,1583.81 L531.92,1584.52 L534.84,1585.22 L537.77,1585.91 L540.69,1586.60 L543.61,1587.29 L546.54,1587.96 L549.46,1588.63 L552.39,1589.30 L555.31,1589.96 L558.23,1590.61 L561.16,1591.26 L564.08,1591.90 L567.01,1592.54 L569.93,1593.17 L572.85,1593.80 L575.78,1594.42 L578.70,1595.03 L581.62,1595.64 L584.55,1596.24 L587.47,1596.84 L590.40,1597.44 L593.32,1598.03 L596.24,1598.61 L599.17,1599.19 L602.09,1599.76 L605.02,1600.33 L607.94,1600.90 L610.86,1601.46" stroke="#bf0008" stroke-width="2.2" fill="none" stroke-linejoin="round" clip-path="url(#clipe)"/>
<path d="M852.6,1615.1L1365.5,1369.4" stroke="#bf0008" stroke-width="2.2" fill="none"/>
<path d="M132.40,1800.00 L133.50,1816.50 L136.00,1838.50 L139.80,1866.00 L144.20,1893.60 L145.55,1900.57 L148.34,1912.52 L151.14,1923.36 L153.93,1933.24 L156.72,1942.30 L159.51,1950.65 L162.30,1958.38 L165.09,1965.57 L167.88,1972.28 L170.67,1978.55 L173.47,1984.44 L176.26,1989.98 L179.05,1995.20 L181.84,2000.15 L184.63,2004.83 L187.42,2009.28 L190.21,2013.51 L193.00,2017.54 L195.79,2021.38 L198.59,2025.06 L201.38,2028.58 L204.17,2031.95 L206.96,2035.18 L209.75,2038.29 L212.54,2041.27 L215.33,2044.15 L218.12,2046.92 L220.92,2049.59 L223.71,2052.17 L226.50,2054.66 L229.29,2057.07 L232.08,2059.41 L234.87,2061.66 L237.66,2063.85 L240.45,2065.98 L243.24,2068.03 L246.04,2070.03 L248.83,2071.98 L251.62,2073.87 L254.41,2075.70 L257.20,2077.49 L259.99,2079.23 L262.78,2080.93 L265.57,2082.58 L268.36,2084.19 L271.16,2085.76 L273.95,2087.30 L276.74,2088.79 L279.53,2090.26 L282.32,2091.69 L285.11,2093.08 L287.90,2094.45 L290.69,2095.78 L293.48,2097.09 L296.28,2098.37 L299.07,2099.62 L301.86,2100.85 L304.65,2102.05 L307.44,2103.23 L310.23,2104.38 L313.02,2105.51 L315.81,2106.62 L318.61,2107.71 L321.40,2108.78 L324.19,2109.83 L326.98,2110.86 L329.77,2111.87 L332.56,2112.86 L335.35,2113.84 L338.14,2114.80 L340.93,2115.74 L343.73,2116.66 L346.52,2117.57 L349.31,2118.47 L352.10,2119.35 L354.89,2120.22 L357.68,2121.07 L360.47,2121.91 L363.26,2122.73 L366.05,2123.55 L368.85,2124.35 L371.64,2125.13 L374.43,2125.91 L377.22,2126.68 L380.01,2127.43 L382.80,2128.17 L385.59,2128.91 L388.38,2129.63 L391.18,2130.34 L393.97,2131.04 L396.76,2131.73 L399.55,2132.41 L402.34,2133.09 L405.13,2133.75 L407.92,2134.41 L410.71,2135.05 L413.50,2135.69 L416.30,2136.32 L419.09,2136.94 L421.88,2137.56 L424.67,2138.16 L427.46,2138.76 L430.25,2139.35 L433.04,2139.94 L435.83,2140.51 L438.62,2141.08 L441.42,2141.64 L444.21,2142.20 L447.00,2142.75 L449.79,2143.29 L452.58,2143.83 L455.37,2144.36 L458.16,2144.89 L460.95,2145.40 L463.75,2145.92 L466.54,2146.42 L469.33,2146.93 L472.12,2147.42 L474.91,2147.91 L477.70,2148.40 L480.49,2148.88 L483.28,2149.35 L486.07,2149.82 L488.87,2150.29 L491.66,2150.75 L494.45,2151.20 L497.24,2151.65 L500.03,2152.10 L502.82,2152.54 L505.61,2152.98 L508.40,2153.41 L511.19,2153.84 L513.99,2154.26 L516.78,2154.69 L519.57,2155.10 L522.36,2155.51 L525.15,2155.92 L527.94,2156.33 L530.73,2156.73 L533.52,2157.12 L536.32,2157.52 L539.11,2157.91 L541.90,2158.29 L544.69,2158.67 L547.48,2159.05 L550.27,2159.43 L553.06,2159.80 L555.85,2160.17 L558.64,2160.53 L561.44,2160.90 L564.23,2161.25 L567.02,2161.61 L569.81,2161.96 L572.60,2162.31 L575.39,2162.66 L578.18,2163.00 L580.97,2163.34 L583.76,2163.68 L586.56,2164.02 L589.35,2164.35 L592.14,2164.68" stroke="#bf0008" stroke-width="2.2" fill="none" stroke-linejoin="round" clip-path="url(#clipg)"/>
<rect x="1414" y="2156" width="3" height="2" fill="#3ff0f0"/>
</g>
</svg></body></html>
